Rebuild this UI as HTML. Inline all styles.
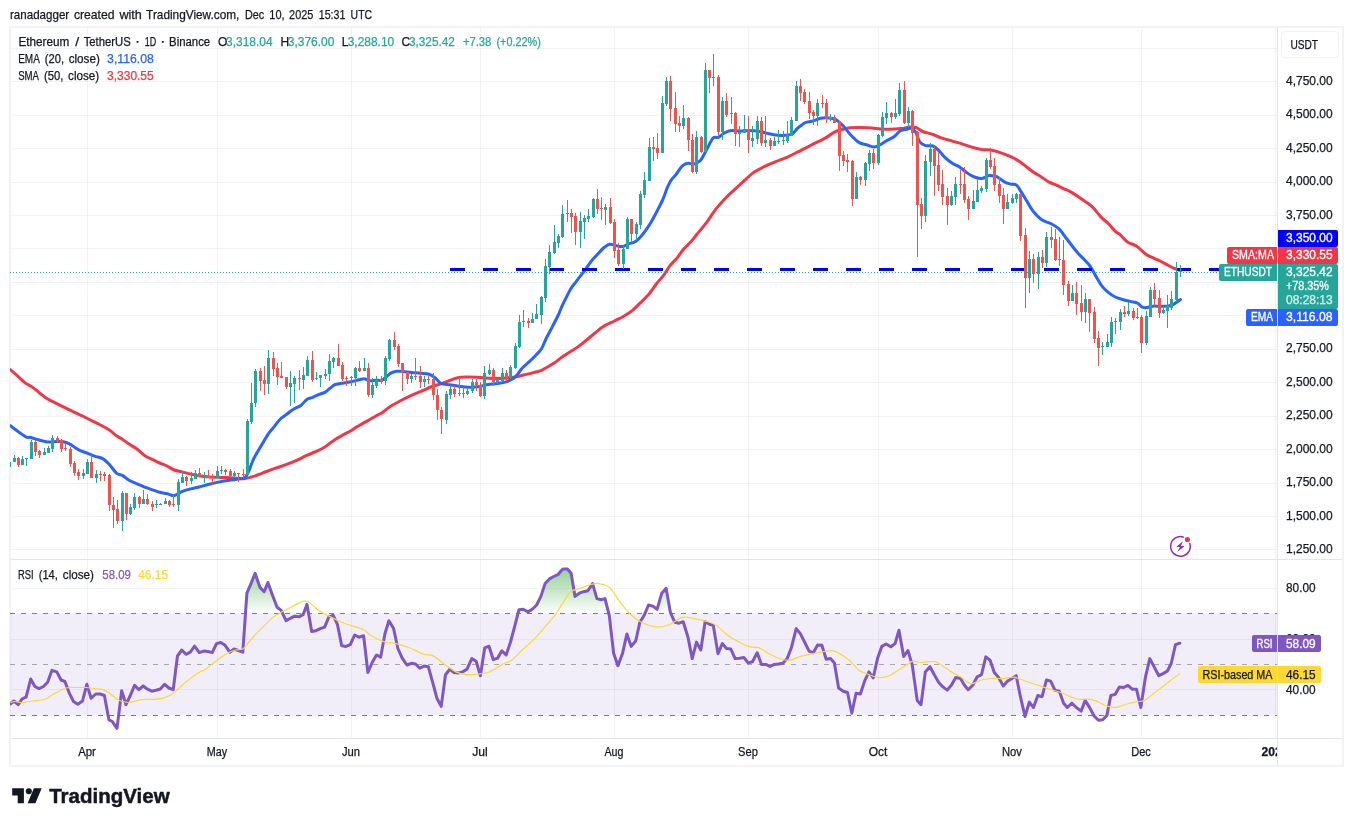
<!DOCTYPE html>
<html><head><meta charset="utf-8"><title>ETHUSDT chart</title>
<style>html,body{margin:0;padding:0;background:#fff;width:1353px;height:826px;overflow:hidden}</style>
</head><body>
<svg width="1353" height="826" viewBox="0 0 1353 826" font-family='"Liberation Sans", sans-serif' style="position:absolute;left:0;top:0;display:block;will-change:transform">
<defs>
<linearGradient id="gob" gradientUnits="userSpaceOnUse" x1="0" y1="537.6" x2="0" y2="614">
<stop offset="0" stop-color="#4caf50" stop-opacity="1"/><stop offset="1" stop-color="#4caf50" stop-opacity="0"/></linearGradient>
<linearGradient id="gos" gradientUnits="userSpaceOnUse" x1="0" y1="716" x2="0" y2="792">
<stop offset="0" stop-color="#ff5252" stop-opacity="0"/><stop offset="1" stop-color="#ff5252" stop-opacity="1"/></linearGradient>
<clipPath id="cm"><rect x="10" y="28" width="1267" height="531"/></clipPath>
<clipPath id="cr"><rect x="10" y="560" width="1267" height="178"/></clipPath>
<clipPath id="ct"><rect x="11" y="739" width="1266" height="26"/></clipPath>
<clipPath id="cob"><rect x="11" y="560" width="1266" height="54"/></clipPath>
<clipPath id="cos"><rect x="11" y="716" width="1266" height="22"/></clipPath>
</defs>
<rect width="1353" height="826" fill="#fff"/>
<text x="10" y="19" font-size="13" fill="#131722" text-anchor="start" font-weight="normal" textLength="59.2" lengthAdjust="spacingAndGlyphs" stroke="#131722" stroke-width="0.25">ranadagger</text>
<text x="73.9" y="19" font-size="13" fill="#131722" text-anchor="start" font-weight="normal" textLength="40.7" lengthAdjust="spacingAndGlyphs" stroke="#131722" stroke-width="0.25">created</text>
<text x="119.4" y="19" font-size="13" fill="#131722" text-anchor="start" font-weight="normal" textLength="22.5" lengthAdjust="spacingAndGlyphs" stroke="#131722" stroke-width="0.25">with</text>
<text x="146.1" y="19" font-size="13" fill="#131722" text-anchor="start" font-weight="normal" textLength="93.3" lengthAdjust="spacingAndGlyphs" stroke="#131722" stroke-width="0.25">TradingView.com,</text>
<text x="245" y="19" font-size="13" fill="#131722" text-anchor="start" font-weight="normal" textLength="19.2" lengthAdjust="spacingAndGlyphs" stroke="#131722" stroke-width="0.25">Dec</text>
<text x="269.3" y="19" font-size="13" fill="#131722" text-anchor="start" font-weight="normal" textLength="15.3" lengthAdjust="spacingAndGlyphs" stroke="#131722" stroke-width="0.25">10,</text>
<text x="289.1" y="19" font-size="13" fill="#131722" text-anchor="start" font-weight="normal" textLength="24.2" lengthAdjust="spacingAndGlyphs" stroke="#131722" stroke-width="0.25">2025</text>
<text x="318.7" y="19" font-size="13" fill="#131722" text-anchor="start" font-weight="normal" textLength="26.8" lengthAdjust="spacingAndGlyphs" stroke="#131722" stroke-width="0.25">15:31</text>
<text x="350.6" y="19" font-size="13" fill="#131722" text-anchor="start" font-weight="normal" textLength="21.5" lengthAdjust="spacingAndGlyphs" stroke="#131722" stroke-width="0.25">UTC</text>
<rect x="10" y="27" width="1333" height="739" fill="#fff" stroke="#f3f3f4" stroke-width="2"/>
<g shape-rendering="crispEdges">
<rect x="87" y="28" width="1" height="710" fill="rgba(42,46,57,0.06)"/>
<rect x="217" y="28" width="1" height="710" fill="rgba(42,46,57,0.06)"/>
<rect x="351" y="28" width="1" height="710" fill="rgba(42,46,57,0.06)"/>
<rect x="480" y="28" width="1" height="710" fill="rgba(42,46,57,0.06)"/>
<rect x="614" y="28" width="1" height="710" fill="rgba(42,46,57,0.06)"/>
<rect x="748" y="28" width="1" height="710" fill="rgba(42,46,57,0.06)"/>
<rect x="878" y="28" width="1" height="710" fill="rgba(42,46,57,0.06)"/>
<rect x="1012" y="28" width="1" height="710" fill="rgba(42,46,57,0.06)"/>
<rect x="1141" y="28" width="1" height="710" fill="rgba(42,46,57,0.06)"/>
<rect x="1275" y="28" width="1" height="710" fill="rgba(42,46,57,0.06)"/>
<rect x="11" y="48" width="1266" height="1" fill="rgba(42,46,57,0.06)"/>
<rect x="11" y="81" width="1266" height="1" fill="rgba(42,46,57,0.06)"/>
<rect x="11" y="115" width="1266" height="1" fill="rgba(42,46,57,0.06)"/>
<rect x="11" y="148" width="1266" height="1" fill="rgba(42,46,57,0.06)"/>
<rect x="11" y="182" width="1266" height="1" fill="rgba(42,46,57,0.06)"/>
<rect x="11" y="215" width="1266" height="1" fill="rgba(42,46,57,0.06)"/>
<rect x="11" y="248" width="1266" height="1" fill="rgba(42,46,57,0.06)"/>
<rect x="11" y="282" width="1266" height="1" fill="rgba(42,46,57,0.06)"/>
<rect x="11" y="315" width="1266" height="1" fill="rgba(42,46,57,0.06)"/>
<rect x="11" y="349" width="1266" height="1" fill="rgba(42,46,57,0.06)"/>
<rect x="11" y="382" width="1266" height="1" fill="rgba(42,46,57,0.06)"/>
<rect x="11" y="416" width="1266" height="1" fill="rgba(42,46,57,0.06)"/>
<rect x="11" y="449" width="1266" height="1" fill="rgba(42,46,57,0.06)"/>
<rect x="11" y="483" width="1266" height="1" fill="rgba(42,46,57,0.06)"/>
<rect x="11" y="516" width="1266" height="1" fill="rgba(42,46,57,0.06)"/>
<rect x="11" y="549" width="1266" height="1" fill="rgba(42,46,57,0.06)"/>
<rect x="11" y="588" width="1266" height="1" fill="rgba(42,46,57,0.06)"/>
<rect x="11" y="639" width="1266" height="1" fill="rgba(42,46,57,0.06)"/>
<rect x="11" y="689" width="1266" height="1" fill="rgba(42,46,57,0.06)"/>
</g>
<g clip-path="url(#cr)">
<rect x="10" y="613.5" width="1267" height="102" fill="#7e57c2" fill-opacity="0.1"/>
<line x1="10" y1="613.5" x2="1277" y2="613.5" stroke="#787b86" stroke-width="1" stroke-dasharray="5 6" shape-rendering="crispEdges"/>
<line x1="10" y1="664.5" x2="1277" y2="664.5" stroke="#a5a7b0" stroke-width="1" stroke-dasharray="5 6" shape-rendering="crispEdges"/>
<line x1="10" y1="715.5" x2="1277" y2="715.5" stroke="#787b86" stroke-width="1" stroke-dasharray="5 6" shape-rendering="crispEdges"/>
<path d="M10.3,704.0L13.9,701.0L18.2,704.7L22.1,698.9L26.1,697.2L30.7,679.0L34.9,686.5L39.0,688.6L43.5,686.5L47.6,682.2L51.9,670.4L56.8,671.9L61.1,680.0L64.9,681.5L69.2,692.9L73.5,701.5L77.8,704.3L82.5,701.0L86.8,684.3L91.1,698.2L95.8,694.0L100.1,694.0L104.4,695.5L108.9,719.7L112.5,721.8L117.0,728.3L121.7,690.7L126.0,704.7L130.3,695.5L134.6,685.4L138.9,689.7L143.2,686.0L147.5,689.2L151.8,691.2L156.0,690.3L160.3,689.0L164.6,684.3L168.9,688.0L173.2,689.7L177.5,655.8L181.8,650.0L186.0,654.3L190.3,652.2L194.6,646.2L199.3,652.6L203.6,651.1L207.9,651.5L212.2,652.6L216.5,643.6L220.8,642.5L225.1,645.3L229.8,652.2L234.1,649.0L238.3,650.5L242.8,652.2L246.9,593.2L251.2,583.1L255.1,573.3L260.0,587.4L264.1,591.7L267.9,582.5L272.6,595.4L277.1,607.2L281.2,610.4L286.0,620.7L290.3,618.3L294.6,616.2L298.9,616.8L303.1,614.7L307.0,604.4L311.7,631.4L316.0,630.7L320.3,628.6L324.6,627.1L328.9,616.8L333.2,615.3L337.4,624.3L341.7,645.7L346.0,646.4L350.3,644.7L354.6,635.0L358.9,637.2L363.6,635.7L367.9,672.5L372.2,662.5L376.5,655.0L380.7,657.1L385.0,633.5L388.9,620.7L393.6,628.6L397.9,648.5L402.2,658.2L406.9,665.0L411.2,663.3L415.5,664.0L419.7,668.2L424.0,666.1L428.3,666.7L432.6,682.2L436.9,698.2L441.2,706.4L445.5,674.7L449.8,669.3L454.0,672.5L458.3,673.0L462.6,671.9L466.9,669.3L471.8,658.6L476.1,661.2L480.4,675.7L484.7,647.9L489.0,646.2L493.3,659.7L497.6,658.2L501.8,650.7L506.1,655.0L510.4,642.5L514.7,626.4L519.0,609.7L523.3,609.3L528.0,611.9L532.3,609.3L536.6,605.0L540.9,596.4L545.1,583.6L549.4,578.9L553.7,576.5L558.0,574.6L562.3,569.6L563.2,569.0L567.5,569.0L571.1,573.3L575.0,596.4L579.3,593.2L583.6,591.7L587.9,590.7L592.6,583.6L596.9,598.6L601.2,599.7L605.0,598.6L609.3,615.7L613.6,653.2L617.9,665.7L622.6,653.2L626.9,633.9L631.2,646.4L635.7,641.0L639.9,622.2L644.2,615.3L648.5,605.0L652.8,606.1L657.1,609.3L661.8,593.2L666.1,588.3L670.4,612.5L674.7,622.2L679.0,623.2L683.2,621.7L688.0,637.2L692.2,658.6L696.5,642.1L700.8,650.0L705.1,621.7L709.4,624.3L713.3,625.4L718.0,653.7L722.3,643.6L726.5,648.5L730.8,649.0L735.1,658.6L739.6,658.2L743.9,657.5L748.2,662.9L752.5,661.8L757.2,652.8L761.5,664.4L765.8,664.4L770.1,666.5L774.3,664.4L778.6,664.0L782.9,663.3L787.2,658.6L791.5,647.2L796.2,628.6L800.5,633.9L804.8,642.5L809.1,651.1L813.3,652.8L817.6,645.1L821.9,645.3L826.2,659.2L830.5,658.6L834.4,662.9L838.6,688.0L843.2,691.2L847.5,692.5L851.8,713.3L856.1,693.3L860.4,694.0L864.6,681.1L868.9,671.9L873.2,677.9L877.5,658.6L881.8,646.4L886.1,644.0L890.8,646.8L895.1,643.6L898.9,630.3L903.7,656.5L907.9,650.5L912.2,664.6L917.2,700.4L921.0,704.7L925.3,672.1L930.0,666.7L934.3,674.7L938.6,682.2L942.9,686.9L947.2,690.1L951.5,685.0L955.7,677.5L960.5,678.5L964.3,685.0L968.2,689.7L972.9,685.0L977.2,676.8L981.5,674.7L985.8,656.9L990.0,660.1L994.3,672.5L998.6,677.5L1003.3,686.0L1007.6,681.1L1011.9,678.5L1016.2,675.7L1020.5,697.2L1025.0,716.5L1029.3,702.1L1033.5,707.5L1037.8,695.5L1042.1,696.7L1046.4,680.0L1050.7,681.1L1055.0,690.3L1059.3,691.2L1063.6,703.2L1067.3,707.5L1072.0,703.2L1076.3,707.5L1081.2,711.1L1085.1,700.4L1089.8,707.9L1094.1,716.0L1098.4,720.3L1102.7,719.7L1106.9,715.4L1110.8,695.5L1115.1,694.4L1119.4,687.1L1123.7,687.5L1127.9,685.4L1132.2,689.2L1136.5,689.2L1140.8,707.5L1145.5,676.8L1149.8,658.6L1154.1,666.7L1158.8,675.7L1163.1,673.6L1167.4,671.0L1171.2,663.5L1175.5,644.7L1179.8,643.2L1179.8,614L10.3,614Z" fill="url(#gob)" clip-path="url(#cob)"/>
<path d="M10.3,704.0L13.9,701.0L18.2,704.7L22.1,698.9L26.1,697.2L30.7,679.0L34.9,686.5L39.0,688.6L43.5,686.5L47.6,682.2L51.9,670.4L56.8,671.9L61.1,680.0L64.9,681.5L69.2,692.9L73.5,701.5L77.8,704.3L82.5,701.0L86.8,684.3L91.1,698.2L95.8,694.0L100.1,694.0L104.4,695.5L108.9,719.7L112.5,721.8L117.0,728.3L121.7,690.7L126.0,704.7L130.3,695.5L134.6,685.4L138.9,689.7L143.2,686.0L147.5,689.2L151.8,691.2L156.0,690.3L160.3,689.0L164.6,684.3L168.9,688.0L173.2,689.7L177.5,655.8L181.8,650.0L186.0,654.3L190.3,652.2L194.6,646.2L199.3,652.6L203.6,651.1L207.9,651.5L212.2,652.6L216.5,643.6L220.8,642.5L225.1,645.3L229.8,652.2L234.1,649.0L238.3,650.5L242.8,652.2L246.9,593.2L251.2,583.1L255.1,573.3L260.0,587.4L264.1,591.7L267.9,582.5L272.6,595.4L277.1,607.2L281.2,610.4L286.0,620.7L290.3,618.3L294.6,616.2L298.9,616.8L303.1,614.7L307.0,604.4L311.7,631.4L316.0,630.7L320.3,628.6L324.6,627.1L328.9,616.8L333.2,615.3L337.4,624.3L341.7,645.7L346.0,646.4L350.3,644.7L354.6,635.0L358.9,637.2L363.6,635.7L367.9,672.5L372.2,662.5L376.5,655.0L380.7,657.1L385.0,633.5L388.9,620.7L393.6,628.6L397.9,648.5L402.2,658.2L406.9,665.0L411.2,663.3L415.5,664.0L419.7,668.2L424.0,666.1L428.3,666.7L432.6,682.2L436.9,698.2L441.2,706.4L445.5,674.7L449.8,669.3L454.0,672.5L458.3,673.0L462.6,671.9L466.9,669.3L471.8,658.6L476.1,661.2L480.4,675.7L484.7,647.9L489.0,646.2L493.3,659.7L497.6,658.2L501.8,650.7L506.1,655.0L510.4,642.5L514.7,626.4L519.0,609.7L523.3,609.3L528.0,611.9L532.3,609.3L536.6,605.0L540.9,596.4L545.1,583.6L549.4,578.9L553.7,576.5L558.0,574.6L562.3,569.6L563.2,569.0L567.5,569.0L571.1,573.3L575.0,596.4L579.3,593.2L583.6,591.7L587.9,590.7L592.6,583.6L596.9,598.6L601.2,599.7L605.0,598.6L609.3,615.7L613.6,653.2L617.9,665.7L622.6,653.2L626.9,633.9L631.2,646.4L635.7,641.0L639.9,622.2L644.2,615.3L648.5,605.0L652.8,606.1L657.1,609.3L661.8,593.2L666.1,588.3L670.4,612.5L674.7,622.2L679.0,623.2L683.2,621.7L688.0,637.2L692.2,658.6L696.5,642.1L700.8,650.0L705.1,621.7L709.4,624.3L713.3,625.4L718.0,653.7L722.3,643.6L726.5,648.5L730.8,649.0L735.1,658.6L739.6,658.2L743.9,657.5L748.2,662.9L752.5,661.8L757.2,652.8L761.5,664.4L765.8,664.4L770.1,666.5L774.3,664.4L778.6,664.0L782.9,663.3L787.2,658.6L791.5,647.2L796.2,628.6L800.5,633.9L804.8,642.5L809.1,651.1L813.3,652.8L817.6,645.1L821.9,645.3L826.2,659.2L830.5,658.6L834.4,662.9L838.6,688.0L843.2,691.2L847.5,692.5L851.8,713.3L856.1,693.3L860.4,694.0L864.6,681.1L868.9,671.9L873.2,677.9L877.5,658.6L881.8,646.4L886.1,644.0L890.8,646.8L895.1,643.6L898.9,630.3L903.7,656.5L907.9,650.5L912.2,664.6L917.2,700.4L921.0,704.7L925.3,672.1L930.0,666.7L934.3,674.7L938.6,682.2L942.9,686.9L947.2,690.1L951.5,685.0L955.7,677.5L960.5,678.5L964.3,685.0L968.2,689.7L972.9,685.0L977.2,676.8L981.5,674.7L985.8,656.9L990.0,660.1L994.3,672.5L998.6,677.5L1003.3,686.0L1007.6,681.1L1011.9,678.5L1016.2,675.7L1020.5,697.2L1025.0,716.5L1029.3,702.1L1033.5,707.5L1037.8,695.5L1042.1,696.7L1046.4,680.0L1050.7,681.1L1055.0,690.3L1059.3,691.2L1063.6,703.2L1067.3,707.5L1072.0,703.2L1076.3,707.5L1081.2,711.1L1085.1,700.4L1089.8,707.9L1094.1,716.0L1098.4,720.3L1102.7,719.7L1106.9,715.4L1110.8,695.5L1115.1,694.4L1119.4,687.1L1123.7,687.5L1127.9,685.4L1132.2,689.2L1136.5,689.2L1140.8,707.5L1145.5,676.8L1149.8,658.6L1154.1,666.7L1158.8,675.7L1163.1,673.6L1167.4,671.0L1171.2,663.5L1175.5,644.7L1179.8,643.2L1179.8,716L10.3,716Z" fill="url(#gos)" clip-path="url(#cos)"/>
<path d="M10.3,704.0L13.9,701.0L18.2,704.7L22.1,698.9L26.1,697.2L30.7,679.0L34.9,686.5L39.0,688.6L43.5,686.5L47.6,682.2L51.9,670.4L56.8,671.9L61.1,680.0L64.9,681.5L69.2,692.9L73.5,701.5L77.8,704.3L82.5,701.0L86.8,684.3L91.1,698.2L95.8,694.0L100.1,694.0L104.4,695.5L108.9,719.7L112.5,721.8L117.0,728.3L121.7,690.7L126.0,704.7L130.3,695.5L134.6,685.4L138.9,689.7L143.2,686.0L147.5,689.2L151.8,691.2L156.0,690.3L160.3,689.0L164.6,684.3L168.9,688.0L173.2,689.7L177.5,655.8L181.8,650.0L186.0,654.3L190.3,652.2L194.6,646.2L199.3,652.6L203.6,651.1L207.9,651.5L212.2,652.6L216.5,643.6L220.8,642.5L225.1,645.3L229.8,652.2L234.1,649.0L238.3,650.5L242.8,652.2L246.9,593.2L251.2,583.1L255.1,573.3L260.0,587.4L264.1,591.7L267.9,582.5L272.6,595.4L277.1,607.2L281.2,610.4L286.0,620.7L290.3,618.3L294.6,616.2L298.9,616.8L303.1,614.7L307.0,604.4L311.7,631.4L316.0,630.7L320.3,628.6L324.6,627.1L328.9,616.8L333.2,615.3L337.4,624.3L341.7,645.7L346.0,646.4L350.3,644.7L354.6,635.0L358.9,637.2L363.6,635.7L367.9,672.5L372.2,662.5L376.5,655.0L380.7,657.1L385.0,633.5L388.9,620.7L393.6,628.6L397.9,648.5L402.2,658.2L406.9,665.0L411.2,663.3L415.5,664.0L419.7,668.2L424.0,666.1L428.3,666.7L432.6,682.2L436.9,698.2L441.2,706.4L445.5,674.7L449.8,669.3L454.0,672.5L458.3,673.0L462.6,671.9L466.9,669.3L471.8,658.6L476.1,661.2L480.4,675.7L484.7,647.9L489.0,646.2L493.3,659.7L497.6,658.2L501.8,650.7L506.1,655.0L510.4,642.5L514.7,626.4L519.0,609.7L523.3,609.3L528.0,611.9L532.3,609.3L536.6,605.0L540.9,596.4L545.1,583.6L549.4,578.9L553.7,576.5L558.0,574.6L562.3,569.6L563.2,569.0L567.5,569.0L571.1,573.3L575.0,596.4L579.3,593.2L583.6,591.7L587.9,590.7L592.6,583.6L596.9,598.6L601.2,599.7L605.0,598.6L609.3,615.7L613.6,653.2L617.9,665.7L622.6,653.2L626.9,633.9L631.2,646.4L635.7,641.0L639.9,622.2L644.2,615.3L648.5,605.0L652.8,606.1L657.1,609.3L661.8,593.2L666.1,588.3L670.4,612.5L674.7,622.2L679.0,623.2L683.2,621.7L688.0,637.2L692.2,658.6L696.5,642.1L700.8,650.0L705.1,621.7L709.4,624.3L713.3,625.4L718.0,653.7L722.3,643.6L726.5,648.5L730.8,649.0L735.1,658.6L739.6,658.2L743.9,657.5L748.2,662.9L752.5,661.8L757.2,652.8L761.5,664.4L765.8,664.4L770.1,666.5L774.3,664.4L778.6,664.0L782.9,663.3L787.2,658.6L791.5,647.2L796.2,628.6L800.5,633.9L804.8,642.5L809.1,651.1L813.3,652.8L817.6,645.1L821.9,645.3L826.2,659.2L830.5,658.6L834.4,662.9L838.6,688.0L843.2,691.2L847.5,692.5L851.8,713.3L856.1,693.3L860.4,694.0L864.6,681.1L868.9,671.9L873.2,677.9L877.5,658.6L881.8,646.4L886.1,644.0L890.8,646.8L895.1,643.6L898.9,630.3L903.7,656.5L907.9,650.5L912.2,664.6L917.2,700.4L921.0,704.7L925.3,672.1L930.0,666.7L934.3,674.7L938.6,682.2L942.9,686.9L947.2,690.1L951.5,685.0L955.7,677.5L960.5,678.5L964.3,685.0L968.2,689.7L972.9,685.0L977.2,676.8L981.5,674.7L985.8,656.9L990.0,660.1L994.3,672.5L998.6,677.5L1003.3,686.0L1007.6,681.1L1011.9,678.5L1016.2,675.7L1020.5,697.2L1025.0,716.5L1029.3,702.1L1033.5,707.5L1037.8,695.5L1042.1,696.7L1046.4,680.0L1050.7,681.1L1055.0,690.3L1059.3,691.2L1063.6,703.2L1067.3,707.5L1072.0,703.2L1076.3,707.5L1081.2,711.1L1085.1,700.4L1089.8,707.9L1094.1,716.0L1098.4,720.3L1102.7,719.7L1106.9,715.4L1110.8,695.5L1115.1,694.4L1119.4,687.1L1123.7,687.5L1127.9,685.4L1132.2,689.2L1136.5,689.2L1140.8,707.5L1145.5,676.8L1149.8,658.6L1154.1,666.7L1158.8,675.7L1163.1,673.6L1167.4,671.0L1171.2,663.5L1175.5,644.7L1179.8,643.2" fill="none" stroke="#7e57c2" stroke-width="3" stroke-linejoin="round" stroke-linecap="round"/>
<path d="M10.3,702.5C11.1,702.4 13.1,701.5 15.0,701.5C16.9,701.5 18.6,702.6 21.4,702.5C24.3,702.5 28.2,701.6 32.2,701.0C36.1,700.5 41.4,700.5 45.0,699.3C48.6,698.1 50.0,695.9 53.6,694.0C57.2,692.1 62.9,689.0 66.4,688.0C70.0,686.9 71.8,687.6 75.0,687.5C78.2,687.5 82.5,687.4 85.7,687.5C89.0,687.7 91.5,688.2 94.3,688.6C97.2,689.0 100.4,689.0 102.9,689.7C105.4,690.4 106.8,691.2 109.3,692.9C111.8,694.6 114.7,698.1 117.9,699.7C121.1,701.4 124.7,702.5 128.6,702.5C132.5,702.5 137.2,700.3 141.5,699.7C145.8,699.2 150.4,699.7 154.3,699.3C158.3,699.0 161.8,698.7 165.0,697.6C168.3,696.5 170.4,695.3 173.6,692.9C176.8,690.5 180.4,686.5 184.3,683.2C188.3,680.0 193.6,676.0 197.2,673.6C200.8,671.2 202.6,671.0 205.8,668.9C209.0,666.7 212.9,663.3 216.5,660.7C220.1,658.1 224.0,655.0 227.2,653.2C230.4,651.5 233.2,650.7 235.8,650.0C238.4,649.3 240.7,650.2 242.8,649.0C245.0,647.7 246.6,644.8 248.6,642.5C250.7,640.2 252.6,637.7 255.1,635.0C257.6,632.3 260.8,629.3 263.6,626.4C266.5,623.6 269.4,620.2 272.2,617.9C275.1,615.5 277.7,614.3 280.8,612.5C283.9,610.7 286.9,609.0 290.7,607.2C294.5,605.3 300.4,601.9 303.6,601.2C306.8,600.4 307.5,601.3 310.0,602.9C312.5,604.4 315.0,607.9 318.6,610.4C322.2,612.8 327.2,615.3 331.4,617.4C335.7,619.6 338.9,621.2 344.3,623.2C349.7,625.3 359.3,627.7 363.6,629.7C367.9,631.6 366.8,633.1 370.0,635.0C373.2,637.0 379.0,640.1 382.9,641.4C386.8,642.8 389.3,642.2 393.6,643.2C397.9,644.2 403.6,645.6 408.6,647.5C413.6,649.3 419.7,653.0 423.6,654.3C427.5,655.6 429.0,654.0 432.2,655.4C435.4,656.8 439.0,660.1 442.9,662.9C446.8,665.6 451.8,669.9 455.8,671.9C459.7,673.8 462.9,674.3 466.5,674.7C470.0,675.1 473.6,674.6 477.2,674.2C480.8,673.9 485.1,673.3 487.9,672.5C490.8,671.7 491.8,670.7 494.3,669.3C496.8,667.9 500.1,665.5 502.9,664.0C505.8,662.5 508.3,662.6 511.5,660.3C514.7,658.0 518.6,653.3 522.2,650.0C525.8,646.7 529.3,643.9 532.9,640.4C536.5,636.8 540.1,632.7 543.6,628.6C547.2,624.5 551.1,620.0 554.4,615.7C557.6,611.4 560.2,606.9 562.9,602.9C565.7,598.9 567.6,594.2 570.7,591.7C573.8,589.2 577.9,589.1 581.4,587.9C585.0,586.6 589.3,584.9 592.2,584.2C595.0,583.5 595.7,583.0 598.6,583.6C601.4,584.1 605.7,584.4 609.3,587.4C612.9,590.5 616.4,597.3 620.0,601.8C623.6,606.3 627.2,611.3 630.7,614.7C634.3,618.1 637.2,620.1 641.4,622.2C645.7,624.2 651.8,626.4 656.5,626.9C661.1,627.3 665.0,626.3 669.3,624.7C673.6,623.2 678.2,618.5 682.2,617.4C686.1,616.4 689.0,617.7 692.9,618.3C696.8,618.9 701.8,619.9 705.8,621.1C709.7,622.3 712.9,623.1 716.5,625.4C720.0,627.7 723.6,632.3 727.2,635.0C730.8,637.7 734.3,639.6 737.9,641.4C741.5,643.3 745.0,645.3 748.6,646.4C752.2,647.5 755.8,646.6 759.3,647.9C762.9,649.2 766.8,652.6 770.1,654.3C773.3,656.0 775.4,657.2 778.6,658.2C781.8,659.2 785.8,660.6 789.3,660.3C792.9,660.0 796.1,657.6 800.1,656.5C804.0,655.3 809.0,654.5 812.9,653.7C816.8,652.9 820.1,652.2 823.6,651.7C827.2,651.3 830.2,649.8 834.4,651.1C838.5,652.4 844.4,656.5 848.6,659.7C852.7,662.9 856.1,668.0 859.3,670.4C862.5,672.8 864.6,673.1 867.9,674.2C871.1,675.4 875.0,677.2 878.6,677.5C882.2,677.7 886.1,676.9 889.3,675.7C892.5,674.6 895.0,672.2 897.9,670.4C900.7,668.6 903.9,666.6 906.4,665.0C908.9,663.5 910.4,661.6 912.9,661.2C915.4,660.7 917.9,662.4 921.4,662.5C925.0,662.5 930.7,660.8 934.3,661.4C937.9,662.0 939.7,664.1 942.9,666.1C946.1,668.1 950.4,671.2 953.6,673.2C956.8,675.1 959.3,676.1 962.2,677.9C965.0,679.7 967.5,683.5 970.7,683.9C974.0,684.2 977.9,680.9 981.5,680.0C985.0,679.1 988.6,678.8 992.2,678.5C995.8,678.3 999.3,678.7 1002.9,678.5C1006.5,678.3 1010.0,676.9 1013.6,677.2C1017.2,677.6 1020.4,679.4 1024.3,680.7C1028.3,682.0 1032.9,683.5 1037.2,685.0C1041.5,686.4 1045.8,687.9 1050.1,689.2C1054.3,690.6 1059.3,692.0 1062.9,693.3C1066.5,694.6 1068.7,696.2 1071.6,697.2C1074.4,698.2 1076.9,699.0 1080.1,699.3C1083.4,699.7 1087.6,698.8 1090.9,699.3C1094.1,699.9 1096.6,701.4 1099.4,702.5C1102.3,703.7 1105.2,705.6 1108.0,706.4C1110.9,707.2 1113.4,707.6 1116.6,707.3C1119.8,706.9 1124.1,704.9 1127.3,704.0C1130.5,703.1 1133.0,702.5 1135.9,701.9C1138.7,701.3 1141.6,701.7 1144.4,700.4C1147.3,699.1 1150.2,696.1 1153.0,694.0C1155.9,691.8 1158.7,689.7 1161.6,687.5C1164.5,685.3 1167.1,683.0 1170.2,680.7C1173.2,678.4 1178.2,674.8 1179.8,673.6" fill="none" stroke="#fdd835" stroke-width="1.2" stroke-linejoin="round"/>
</g>
<g clip-path="url(#cm)">
<path d="M10.3,369.6C11.6,370.7 15.3,374.0 17.7,376.2C20.2,378.4 22.7,381.0 25.1,382.9C27.6,384.7 30.1,385.6 32.5,387.3C35.0,389.0 37.4,391.3 39.9,393.2C42.4,395.1 44.6,397.2 47.3,398.8C50.0,400.5 53.2,401.8 56.2,403.3C59.1,404.7 62.1,406.2 65.0,407.7C68.0,409.2 71.0,410.7 73.9,412.1C76.9,413.5 79.8,414.7 82.8,416.1C85.7,417.5 88.7,419.1 91.6,420.6C94.6,422.0 97.6,423.4 100.5,425.0C103.5,426.6 106.7,428.2 109.4,430.1C112.1,431.9 114.6,434.4 116.8,436.0C119.0,437.5 120.7,438.1 122.7,439.4C124.7,440.7 126.4,442.3 128.6,443.8C130.8,445.3 133.3,446.3 136.0,448.3C138.7,450.2 141.9,453.7 144.9,455.7C147.8,457.6 151.3,458.9 153.7,460.1C156.2,461.3 157.4,462.1 159.6,463.0C161.9,464.0 164.6,464.8 167.0,466.0C169.5,467.2 172.0,469.0 174.4,470.0C176.9,471.0 179.1,471.2 181.8,471.9C184.5,472.6 187.6,473.4 190.7,474.1C193.8,474.8 197.2,475.7 200.3,476.1C203.3,476.6 206.2,476.7 209.1,476.9C212.1,477.1 215.0,477.2 218.0,477.3C221.0,477.4 223.4,477.4 226.9,477.6C230.3,477.8 235.7,478.2 238.7,478.3C241.6,478.5 242.4,478.9 244.6,478.6C246.8,478.4 249.0,477.8 252.0,476.9C255.0,476.0 258.6,474.5 262.3,473.2C266.0,471.8 270.2,470.1 274.2,468.7C278.1,467.3 282.1,466.2 286.0,464.7C289.9,463.3 294.4,461.4 297.8,459.9C301.3,458.3 303.7,456.8 306.7,455.4C309.6,454.1 312.6,453.1 315.6,451.7C318.5,450.4 321.5,449.2 324.4,447.3C327.4,445.5 330.3,442.6 333.3,440.7C336.3,438.7 339.1,437.2 342.2,435.5C345.2,433.8 348.9,432.0 351.4,430.5C353.9,429.1 354.4,428.4 357.0,426.8C359.7,425.2 364.2,422.8 367.4,420.9C370.6,419.1 373.8,417.1 376.3,415.7C378.7,414.4 380.0,414.2 382.2,412.8C384.3,411.4 386.3,409.1 389.2,407.2C392.1,405.3 395.9,403.3 399.6,401.3C403.3,399.3 407.7,397.1 411.4,395.4C415.1,393.7 418.3,392.4 421.7,391.0C425.2,389.5 428.9,387.7 432.1,386.5C435.3,385.3 438.0,384.9 441.0,383.9C443.9,382.8 446.9,381.4 449.8,380.3C452.8,379.2 455.7,377.9 458.7,377.4C461.6,376.8 464.6,376.9 467.6,376.9C470.5,376.9 473.5,377.0 476.4,377.2C479.4,377.4 481.9,377.7 485.3,377.9C488.7,378.1 493.7,378.4 497.1,378.4C500.6,378.4 503.0,378.2 506.0,377.9C509.0,377.7 511.9,377.4 514.9,376.9C517.8,376.4 520.8,375.7 523.7,375.0C526.7,374.3 529.6,373.7 532.6,372.9C535.6,372.1 538.0,371.8 541.5,370.3C544.9,368.7 549.8,365.8 553.3,363.6C556.7,361.4 557.9,359.9 562.2,357.0C566.4,354.0 574.2,349.5 579.0,346.1C583.7,342.7 586.8,339.7 590.8,336.5C594.7,333.3 598.7,329.5 602.6,326.9C606.5,324.3 611.0,322.7 614.4,321.0C617.9,319.2 620.3,318.2 623.3,316.5C626.3,314.8 629.4,312.8 632.2,310.6C634.9,308.4 637.1,306.0 640.0,303.2C642.9,300.4 646.5,297.1 649.3,293.8C652.1,290.5 654.2,286.7 656.7,283.5C659.2,280.3 661.9,277.6 664.1,274.6C666.3,271.6 667.8,268.6 670.0,265.7C672.2,262.9 675.2,260.3 677.4,257.6C679.6,254.9 681.1,252.1 683.3,249.5C685.5,246.9 688.5,244.5 690.7,242.1C692.9,239.6 693.8,238.1 696.6,234.7C699.4,231.3 704.5,225.3 707.2,221.6C710.0,218.0 711.2,215.5 713.1,212.8C715.1,210.1 716.8,208.0 719.0,205.4C721.3,202.8 723.5,200.2 726.4,197.3C729.4,194.3 733.6,190.6 736.8,187.6C740.0,184.7 742.9,182.0 745.6,179.5C748.4,177.1 750.1,175.0 753.0,172.9C756.0,170.8 759.7,168.8 763.4,167.0C767.1,165.1 771.3,163.4 775.2,161.8C779.2,160.2 783.3,158.9 787.0,157.3C790.7,155.7 794.2,153.8 797.4,152.2C800.6,150.6 804.3,148.7 806.3,147.7C808.2,146.8 807.0,147.3 808.9,146.3C810.8,145.3 814.8,143.3 817.7,141.9C820.7,140.4 823.9,139.0 826.6,137.4C829.3,135.8 831.3,133.6 834.0,132.3C836.7,130.9 840.2,130.0 842.9,129.3C845.6,128.6 847.5,128.1 850.3,127.8C853.0,127.5 856.2,127.4 859.1,127.4C862.1,127.4 865.0,127.6 868.0,127.8C871.0,128.0 873.9,128.3 876.9,128.6C879.8,128.8 882.8,129.2 885.7,129.3C888.7,129.4 891.6,129.2 894.6,129.0C897.6,128.8 901.0,128.6 903.5,128.3C905.9,127.9 907.2,127.2 909.4,127.1C911.6,127.0 914.6,127.1 916.8,127.8C919.0,128.6 920.0,130.4 922.7,131.5C925.4,132.6 929.8,133.4 933.0,134.5C936.2,135.6 938.7,137.1 941.9,138.2C945.1,139.3 948.8,140.1 952.3,141.1C955.7,142.1 959.2,143.0 962.6,144.1C966.1,145.1 969.7,146.6 972.9,147.5C976.2,148.4 978.9,149.1 981.8,149.6C984.8,150.0 987.8,149.6 990.7,150.0C993.5,150.4 996.3,151.3 998.9,152.1C1001.5,152.9 1003.8,153.8 1006.3,154.8C1008.7,155.8 1010.9,156.6 1013.7,158.0C1016.4,159.5 1019.3,161.4 1022.5,163.7C1025.7,165.9 1029.9,169.7 1032.9,171.8C1035.8,173.9 1037.5,174.5 1040.3,176.2C1043.0,177.9 1046.4,180.7 1049.1,182.1C1051.8,183.6 1054.1,184.0 1056.5,185.1C1059.0,186.2 1061.7,187.7 1063.9,188.8C1066.1,189.8 1067.4,190.1 1069.8,191.4C1072.3,192.8 1076.0,195.1 1078.7,196.9C1081.4,198.7 1083.6,200.2 1086.1,202.1C1088.5,203.9 1091.0,205.5 1093.5,208.0C1095.9,210.5 1098.4,214.3 1100.9,216.9C1103.3,219.5 1105.8,221.1 1108.3,223.5C1110.7,226.0 1113.7,229.8 1115.6,231.6C1117.6,233.5 1118.1,232.9 1120.1,234.6C1122.1,236.3 1124.8,240.1 1127.5,242.0C1130.2,243.9 1133.2,244.1 1136.3,246.1C1139.5,248.2 1143.4,252.4 1146.3,254.4C1149.2,256.4 1151.3,256.9 1153.7,258.1C1156.2,259.3 1158.7,260.3 1161.1,261.5C1163.6,262.8 1166.3,264.4 1168.5,265.5C1170.7,266.7 1172.4,267.6 1174.4,268.5C1176.4,269.3 1179.5,270.3 1180.5,270.7" fill="none" stroke="#f23645" stroke-width="3" stroke-linejoin="round" stroke-linecap="round"/>
<path d="M10.3,425.6C11.6,426.6 15.2,429.4 17.7,431.3C20.3,433.1 23.7,435.8 25.9,436.9C28.1,437.9 28.9,437.0 31.0,437.5C33.1,438.0 35.7,439.1 38.4,439.8C41.1,440.6 44.3,441.6 47.3,441.9C50.3,442.2 53.7,441.7 56.2,441.6C58.6,441.6 59.9,441.2 62.1,441.6C64.3,442.0 66.8,442.5 69.5,443.8C72.2,445.2 75.4,448.2 78.3,449.7C81.3,451.3 84.5,452.1 87.2,453.1C89.9,454.2 91.9,455.1 94.6,456.1C97.3,457.1 101.0,457.6 103.5,459.1C105.9,460.5 107.2,462.1 109.4,464.5C111.6,466.9 114.6,471.5 116.8,473.4C119.0,475.2 120.7,474.5 122.7,475.6C124.7,476.7 126.4,478.8 128.6,480.0C130.8,481.3 132.8,481.9 136.0,483.3C139.2,484.6 143.9,486.7 147.8,488.2C151.8,489.7 156.4,491.4 159.6,492.3C162.8,493.2 164.6,493.1 167.0,493.6C169.5,494.2 172.0,495.9 174.4,495.6C176.9,495.2 179.1,492.7 181.8,491.6C184.5,490.5 187.7,489.7 190.7,488.9C193.7,488.1 196.9,487.5 200.0,486.7C203.1,485.9 205.1,485.2 209.1,484.3C213.1,483.3 219.0,481.9 223.9,481.0C228.8,480.1 235.2,479.6 238.7,479.1C242.1,478.6 243.0,479.2 244.6,478.0C246.2,476.9 246.8,475.6 248.3,472.4C249.8,469.3 251.6,463.1 253.5,459.1C255.3,455.2 257.7,451.7 259.4,448.8C261.1,445.8 262.3,443.9 263.8,441.4C265.3,438.9 266.5,436.5 268.3,434.0C270.0,431.5 272.2,429.1 274.2,426.6C276.1,424.1 278.1,421.2 280.1,419.2C282.1,417.2 283.8,416.5 286.0,414.8C288.2,413.1 290.9,410.7 293.4,409.2C295.9,407.6 298.6,407.0 300.9,405.4C303.1,403.8 304.8,400.8 306.8,399.5C308.7,398.1 310.7,398.1 312.7,397.3C314.7,396.4 316.5,395.5 318.6,394.6C320.7,393.7 322.8,393.6 325.3,392.1C327.7,390.6 331.3,386.8 333.4,385.4C335.5,384.1 336.1,384.4 337.8,384.0C339.5,383.5 341.5,383.3 343.7,382.9C345.9,382.5 348.9,382.2 351.1,381.7C353.3,381.3 354.8,380.8 357.0,380.3C359.3,379.8 362.5,378.7 364.4,378.8C366.4,378.8 366.9,380.3 368.9,380.6C370.8,380.8 373.8,380.4 375.9,380.3C378.1,380.2 380.1,380.7 381.8,380.2C383.6,379.6 384.8,378.1 386.3,376.9C387.7,375.8 389.0,374.2 390.7,373.2C392.4,372.3 394.6,371.6 396.6,371.3C398.6,371.0 400.1,371.2 402.5,371.4C405.0,371.6 408.4,372.2 411.4,372.5C414.3,372.8 417.3,372.9 420.3,373.2C423.2,373.5 426.7,373.5 429.1,374.2C431.6,375.0 433.1,376.1 435.0,377.6C437.0,379.2 438.5,382.1 441.0,383.3C443.4,384.4 446.9,384.3 449.8,384.7C452.8,385.2 455.7,385.8 458.7,386.2C461.6,386.6 464.6,387.2 467.6,387.3C470.5,387.4 474.0,387.1 476.4,386.8C478.9,386.6 480.4,386.1 482.3,385.8C484.3,385.4 485.8,385.0 488.3,384.6C490.7,384.2 494.2,384.0 497.1,383.6C500.1,383.1 503.3,382.7 506.0,381.8C508.7,380.9 511.4,379.7 513.4,378.4C515.4,377.1 516.3,375.7 517.8,374.0C519.3,372.2 520.3,370.1 522.3,368.0C524.2,365.9 527.4,363.5 529.6,361.4C531.9,359.3 533.6,357.6 535.6,355.5C537.5,353.4 539.7,351.7 541.5,348.8C543.3,345.9 544.6,341.6 546.4,338.0C548.2,334.3 550.4,330.7 552.3,326.9C554.3,323.0 556.5,318.7 558.3,315.0C560.0,311.3 560.7,308.9 562.7,304.7C564.7,300.5 567.9,293.7 570.1,289.9C572.3,286.1 573.8,284.7 576.0,281.8C578.2,278.8 580.9,275.5 583.4,272.2C585.8,268.8 588.6,264.7 590.8,261.8C593.0,259.0 594.6,257.5 596.7,255.2C598.8,252.9 601.4,249.8 603.5,248.0C605.6,246.2 607.2,244.7 609.4,244.3C611.6,243.9 614.6,245.4 616.8,245.8C619.0,246.1 620.7,246.8 622.7,246.5C624.7,246.2 626.5,244.7 628.6,243.9C630.7,243.0 633.3,243.1 635.5,241.6C637.8,240.1 639.8,237.8 642.2,235.0C644.5,232.1 647.1,228.5 649.6,224.6C652.0,220.7 654.7,215.5 657.0,211.3C659.2,207.1 661.1,203.4 662.9,199.5C664.6,195.5 665.9,190.9 667.3,187.6C668.7,184.4 669.5,182.5 671.0,180.3C672.5,178.0 674.3,176.7 676.2,174.3C678.0,172.0 680.1,168.1 682.1,166.2C684.1,164.4 686.0,163.6 688.0,163.3C690.0,162.9 691.8,164.5 693.9,164.0C696.0,163.5 698.6,162.4 700.6,160.3C702.5,158.2 703.6,155.1 705.7,151.4C707.8,147.7 711.0,140.5 713.1,138.1C715.2,135.8 716.6,138.2 718.3,137.4C720.0,136.6 721.4,134.7 723.5,133.5C725.6,132.4 728.2,131.0 730.9,130.6C733.6,130.1 736.8,131.0 739.7,131.0C742.7,131.0 745.6,130.6 748.6,130.6C751.6,130.6 754.5,130.6 757.5,131.0C760.4,131.4 763.6,132.5 766.3,133.1C769.1,133.7 771.3,134.3 773.7,134.7C776.2,135.1 778.7,135.4 781.1,135.4C783.6,135.5 786.5,135.3 788.5,135.0C790.5,134.7 791.5,134.6 792.9,133.5C794.4,132.4 795.7,129.9 797.4,128.3C799.1,126.7 801.9,124.9 803.3,123.9C804.7,122.9 804.2,122.9 805.9,122.4C807.6,121.8 810.8,121.6 813.3,120.9C815.8,120.2 818.2,118.7 820.7,118.2C823.2,117.7 825.6,117.7 828.1,117.9C830.5,118.1 833.0,118.1 835.5,119.4C837.9,120.7 840.4,123.1 842.9,125.6C845.3,128.1 847.5,131.6 850.3,134.5C853.0,137.3 856.4,140.9 859.1,142.6C861.8,144.3 864.1,144.1 866.5,144.8C869.0,145.6 871.7,147.0 873.9,147.0C876.1,147.0 877.6,145.9 879.8,144.8C882.0,143.7 884.7,141.8 887.2,140.4C889.7,139.0 892.4,137.9 894.6,136.2C896.8,134.6 898.5,131.9 900.5,130.8C902.5,129.6 904.7,129.7 906.4,129.3C908.2,128.9 909.4,127.9 910.9,128.3C912.3,128.6 913.8,129.3 915.3,131.5C916.8,133.8 918.0,139.5 919.7,141.9C921.5,144.2 923.4,144.9 925.6,145.6C927.9,146.3 930.8,145.1 933.0,146.0C935.3,146.9 937.0,148.8 939.0,150.7C940.9,152.6 942.6,155.3 944.9,157.4C947.1,159.5 949.8,161.7 952.3,163.3C954.7,164.9 957.2,165.4 959.6,167.0C962.1,168.6 964.6,171.2 967.0,172.9C969.5,174.6 972.0,176.1 974.4,177.0C976.9,178.0 979.4,178.8 981.8,178.5C984.3,178.3 987.0,176.0 989.2,175.6C991.4,175.2 993.8,175.9 995.1,176.2C996.5,176.4 995.8,176.0 997.4,177.0C999.0,177.9 1002.6,180.9 1004.8,182.1C1007.0,183.3 1008.7,183.6 1010.7,184.1C1012.7,184.5 1014.9,183.8 1016.6,185.1C1018.3,186.4 1019.3,189.0 1021.0,191.7C1022.8,194.4 1025.0,198.1 1027.0,201.3C1028.9,204.5 1030.4,207.9 1032.9,211.0C1035.3,214.0 1038.8,217.7 1041.7,219.8C1044.7,221.9 1047.8,222.0 1050.6,223.5C1053.4,225.0 1056.0,226.1 1058.7,228.7C1061.4,231.3 1063.8,235.1 1066.9,239.0C1069.9,243.0 1074.6,249.2 1077.2,252.3C1079.9,255.5 1080.6,255.8 1082.8,258.1C1084.9,260.4 1088.0,263.2 1090.2,266.3C1092.4,269.3 1094.1,273.3 1096.1,276.6C1098.1,279.9 1100.0,283.6 1102.0,286.2C1104.0,288.8 1105.7,290.3 1107.9,292.1C1110.1,293.9 1112.8,295.8 1115.3,297.0C1117.8,298.2 1120.2,298.8 1122.7,299.5C1125.2,300.3 1127.6,300.8 1130.1,301.4C1132.5,302.1 1135.5,302.3 1137.5,303.2C1139.4,304.1 1140.4,306.2 1141.9,306.9C1143.4,307.6 1144.6,307.8 1146.3,307.6C1148.1,307.5 1150.0,306.4 1152.3,306.2C1154.5,305.9 1157.2,306.2 1159.6,306.2C1162.1,306.2 1164.8,306.4 1167.0,306.2C1169.3,305.9 1170.7,305.8 1172.9,304.7C1175.2,303.6 1179.2,300.4 1180.5,299.5" fill="none" stroke="#2962ff" stroke-width="3" stroke-linejoin="round" stroke-linecap="round"/>
<line x1="450" y1="269.5" x2="1277" y2="269.5" stroke="#0000ff" stroke-width="3" stroke-dasharray="15 18" shape-rendering="crispEdges"/>
<g shape-rendering="crispEdges">
<rect x="9" y="459" width="1" height="8" fill="#26a69a"/><rect x="8" y="462" width="3" height="5" fill="#26a69a"/>
<rect x="14" y="455" width="1" height="7" fill="#26a69a"/><rect x="13" y="458" width="3" height="4" fill="#26a69a"/>
<rect x="18" y="457" width="1" height="10" fill="#ef5350"/><rect x="17" y="458" width="3" height="7" fill="#ef5350"/>
<rect x="22" y="456" width="1" height="9" fill="#26a69a"/><rect x="21" y="459" width="3" height="6" fill="#26a69a"/>
<rect x="26" y="458" width="1" height="8" fill="#26a69a"/><rect x="25" y="458" width="3" height="1" fill="#26a69a"/>
<rect x="31" y="440" width="1" height="19" fill="#26a69a"/><rect x="30" y="442" width="3" height="17" fill="#26a69a"/>
<rect x="35" y="440" width="1" height="16" fill="#ef5350"/><rect x="34" y="442" width="3" height="10" fill="#ef5350"/>
<rect x="39" y="450" width="1" height="8" fill="#ef5350"/><rect x="38" y="451" width="3" height="4" fill="#ef5350"/>
<rect x="44" y="448" width="1" height="7" fill="#26a69a"/><rect x="43" y="452" width="3" height="3" fill="#26a69a"/>
<rect x="48" y="446" width="1" height="7" fill="#26a69a"/><rect x="47" y="448" width="3" height="5" fill="#26a69a"/>
<rect x="52" y="435" width="1" height="17" fill="#26a69a"/><rect x="51" y="438" width="3" height="11" fill="#26a69a"/>
<rect x="57" y="436" width="1" height="7" fill="#ef5350"/><rect x="56" y="438" width="3" height="3" fill="#ef5350"/>
<rect x="61" y="439" width="1" height="13" fill="#ef5350"/><rect x="60" y="440" width="3" height="9" fill="#ef5350"/>
<rect x="65" y="444" width="1" height="7" fill="#ef5350"/><rect x="64" y="448" width="3" height="1" fill="#ef5350"/>
<rect x="70" y="447" width="1" height="20" fill="#ef5350"/><rect x="69" y="449" width="3" height="15" fill="#ef5350"/>
<rect x="74" y="461" width="1" height="15" fill="#ef5350"/><rect x="73" y="463" width="3" height="10" fill="#ef5350"/>
<rect x="78" y="469" width="1" height="11" fill="#ef5350"/><rect x="77" y="472" width="3" height="4" fill="#ef5350"/>
<rect x="83" y="469" width="1" height="10" fill="#26a69a"/><rect x="82" y="473" width="3" height="3" fill="#26a69a"/>
<rect x="87" y="459" width="1" height="15" fill="#26a69a"/><rect x="86" y="462" width="3" height="12" fill="#26a69a"/>
<rect x="91" y="455" width="1" height="23" fill="#ef5350"/><rect x="90" y="462" width="3" height="16" fill="#ef5350"/>
<rect x="96" y="470" width="1" height="13" fill="#26a69a"/><rect x="95" y="474" width="3" height="4" fill="#26a69a"/>
<rect x="100" y="471" width="1" height="10" fill="#ef5350"/><rect x="99" y="474" width="3" height="1" fill="#ef5350"/>
<rect x="104" y="472" width="1" height="9" fill="#ef5350"/><rect x="103" y="474" width="3" height="2" fill="#ef5350"/>
<rect x="109" y="474" width="1" height="37" fill="#ef5350"/><rect x="108" y="475" width="3" height="30" fill="#ef5350"/>
<rect x="113" y="497" width="1" height="31" fill="#ef5350"/><rect x="112" y="505" width="3" height="5" fill="#ef5350"/>
<rect x="117" y="500" width="1" height="24" fill="#ef5350"/><rect x="116" y="509" width="3" height="12" fill="#ef5350"/>
<rect x="122" y="491" width="1" height="40" fill="#26a69a"/><rect x="121" y="493" width="3" height="28" fill="#26a69a"/>
<rect x="126" y="493" width="1" height="27" fill="#ef5350"/><rect x="125" y="493" width="3" height="21" fill="#ef5350"/>
<rect x="130" y="504" width="1" height="11" fill="#26a69a"/><rect x="129" y="507" width="3" height="7" fill="#26a69a"/>
<rect x="134" y="493" width="1" height="17" fill="#26a69a"/><rect x="133" y="497" width="3" height="11" fill="#26a69a"/>
<rect x="139" y="496" width="1" height="12" fill="#ef5350"/><rect x="138" y="497" width="3" height="7" fill="#ef5350"/>
<rect x="143" y="490" width="1" height="14" fill="#26a69a"/><rect x="142" y="499" width="3" height="5" fill="#26a69a"/>
<rect x="147" y="494" width="1" height="11" fill="#ef5350"/><rect x="146" y="499" width="3" height="5" fill="#ef5350"/>
<rect x="152" y="501" width="1" height="10" fill="#ef5350"/><rect x="151" y="504" width="3" height="3" fill="#ef5350"/>
<rect x="156" y="500" width="1" height="8" fill="#26a69a"/><rect x="155" y="504" width="3" height="1" fill="#26a69a"/>
<rect x="160" y="503" width="1" height="2" fill="#26a69a"/><rect x="159" y="504" width="3" height="1" fill="#26a69a"/>
<rect x="165" y="498" width="1" height="6" fill="#26a69a"/><rect x="164" y="501" width="3" height="3" fill="#26a69a"/>
<rect x="169" y="500" width="1" height="7" fill="#ef5350"/><rect x="168" y="501" width="3" height="4" fill="#ef5350"/>
<rect x="173" y="495" width="1" height="12" fill="#ef5350"/><rect x="172" y="504" width="3" height="1" fill="#ef5350"/>
<rect x="178" y="479" width="1" height="32" fill="#26a69a"/><rect x="177" y="482" width="3" height="23" fill="#26a69a"/>
<rect x="182" y="471" width="1" height="12" fill="#26a69a"/><rect x="181" y="477" width="3" height="6" fill="#26a69a"/>
<rect x="186" y="476" width="1" height="10" fill="#ef5350"/><rect x="185" y="477" width="3" height="4" fill="#ef5350"/>
<rect x="191" y="472" width="1" height="12" fill="#26a69a"/><rect x="190" y="478" width="3" height="3" fill="#26a69a"/>
<rect x="195" y="470" width="1" height="9" fill="#26a69a"/><rect x="194" y="473" width="3" height="6" fill="#26a69a"/>
<rect x="199" y="468" width="1" height="9" fill="#ef5350"/><rect x="198" y="473" width="3" height="4" fill="#ef5350"/>
<rect x="204" y="472" width="1" height="11" fill="#26a69a"/><rect x="203" y="476" width="3" height="1" fill="#26a69a"/>
<rect x="208" y="470" width="1" height="8" fill="#ef5350"/><rect x="207" y="476" width="3" height="2" fill="#ef5350"/>
<rect x="212" y="474" width="1" height="11" fill="#ef5350"/><rect x="211" y="477" width="3" height="1" fill="#ef5350"/>
<rect x="217" y="466" width="1" height="12" fill="#26a69a"/><rect x="216" y="471" width="3" height="7" fill="#26a69a"/>
<rect x="221" y="466" width="1" height="8" fill="#26a69a"/><rect x="220" y="470" width="3" height="1" fill="#26a69a"/>
<rect x="225" y="469" width="1" height="6" fill="#ef5350"/><rect x="224" y="470" width="3" height="2" fill="#ef5350"/>
<rect x="230" y="469" width="1" height="7" fill="#ef5350"/><rect x="229" y="471" width="3" height="5" fill="#ef5350"/>
<rect x="234" y="471" width="1" height="7" fill="#26a69a"/><rect x="233" y="473" width="3" height="3" fill="#26a69a"/>
<rect x="238" y="473" width="1" height="9" fill="#ef5350"/><rect x="237" y="473" width="3" height="1" fill="#ef5350"/>
<rect x="243" y="469" width="1" height="9" fill="#ef5350"/><rect x="242" y="474" width="3" height="1" fill="#ef5350"/>
<rect x="247" y="419" width="1" height="56" fill="#26a69a"/><rect x="246" y="421" width="3" height="54" fill="#26a69a"/>
<rect x="251" y="383" width="1" height="41" fill="#26a69a"/><rect x="250" y="403" width="3" height="19" fill="#26a69a"/>
<rect x="255" y="369" width="1" height="38" fill="#26a69a"/><rect x="254" y="371" width="3" height="32" fill="#26a69a"/>
<rect x="260" y="368" width="1" height="23" fill="#ef5350"/><rect x="259" y="371" width="3" height="10" fill="#ef5350"/>
<rect x="264" y="366" width="1" height="29" fill="#ef5350"/><rect x="263" y="380" width="3" height="4" fill="#ef5350"/>
<rect x="268" y="350" width="1" height="44" fill="#26a69a"/><rect x="267" y="358" width="3" height="26" fill="#26a69a"/>
<rect x="273" y="352" width="1" height="24" fill="#ef5350"/><rect x="272" y="358" width="3" height="11" fill="#ef5350"/>
<rect x="277" y="363" width="1" height="22" fill="#ef5350"/><rect x="276" y="368" width="3" height="9" fill="#ef5350"/>
<rect x="281" y="362" width="1" height="16" fill="#ef5350"/><rect x="280" y="376" width="3" height="2" fill="#ef5350"/>
<rect x="286" y="377" width="1" height="12" fill="#ef5350"/><rect x="285" y="377" width="3" height="10" fill="#ef5350"/>
<rect x="290" y="371" width="1" height="35" fill="#26a69a"/><rect x="289" y="383" width="3" height="4" fill="#26a69a"/>
<rect x="294" y="376" width="1" height="27" fill="#26a69a"/><rect x="293" y="378" width="3" height="6" fill="#26a69a"/>
<rect x="299" y="370" width="1" height="20" fill="#ef5350"/><rect x="298" y="378" width="3" height="1" fill="#ef5350"/>
<rect x="303" y="367" width="1" height="22" fill="#26a69a"/><rect x="302" y="375" width="3" height="5" fill="#26a69a"/>
<rect x="307" y="356" width="1" height="20" fill="#26a69a"/><rect x="306" y="360" width="3" height="16" fill="#26a69a"/>
<rect x="312" y="351" width="1" height="31" fill="#ef5350"/><rect x="311" y="360" width="3" height="20" fill="#ef5350"/>
<rect x="316" y="372" width="1" height="8" fill="#26a69a"/><rect x="315" y="378" width="3" height="1" fill="#26a69a"/>
<rect x="320" y="375" width="1" height="12" fill="#26a69a"/><rect x="319" y="375" width="3" height="3" fill="#26a69a"/>
<rect x="325" y="369" width="1" height="10" fill="#26a69a"/><rect x="324" y="374" width="3" height="2" fill="#26a69a"/>
<rect x="329" y="354" width="1" height="27" fill="#26a69a"/><rect x="328" y="361" width="3" height="13" fill="#26a69a"/>
<rect x="333" y="357" width="1" height="11" fill="#26a69a"/><rect x="332" y="358" width="3" height="4" fill="#26a69a"/>
<rect x="338" y="344" width="1" height="22" fill="#ef5350"/><rect x="337" y="358" width="3" height="8" fill="#ef5350"/>
<rect x="342" y="362" width="1" height="19" fill="#ef5350"/><rect x="341" y="365" width="3" height="14" fill="#ef5350"/>
<rect x="346" y="376" width="1" height="10" fill="#ef5350"/><rect x="345" y="378" width="3" height="1" fill="#ef5350"/>
<rect x="351" y="376" width="1" height="10" fill="#26a69a"/><rect x="350" y="377" width="3" height="1" fill="#26a69a"/>
<rect x="355" y="367" width="1" height="19" fill="#26a69a"/><rect x="354" y="368" width="3" height="10" fill="#26a69a"/>
<rect x="359" y="361" width="1" height="11" fill="#ef5350"/><rect x="358" y="368" width="3" height="3" fill="#ef5350"/>
<rect x="364" y="358" width="1" height="13" fill="#26a69a"/><rect x="363" y="368" width="3" height="3" fill="#26a69a"/>
<rect x="368" y="363" width="1" height="34" fill="#ef5350"/><rect x="367" y="368" width="3" height="27" fill="#ef5350"/>
<rect x="372" y="378" width="1" height="20" fill="#26a69a"/><rect x="371" y="385" width="3" height="10" fill="#26a69a"/>
<rect x="376" y="376" width="1" height="12" fill="#26a69a"/><rect x="375" y="380" width="3" height="6" fill="#26a69a"/>
<rect x="381" y="376" width="1" height="8" fill="#ef5350"/><rect x="380" y="379" width="3" height="3" fill="#ef5350"/>
<rect x="385" y="356" width="1" height="29" fill="#26a69a"/><rect x="384" y="358" width="3" height="23" fill="#26a69a"/>
<rect x="389" y="339" width="1" height="22" fill="#26a69a"/><rect x="388" y="340" width="3" height="19" fill="#26a69a"/>
<rect x="394" y="332" width="1" height="18" fill="#ef5350"/><rect x="393" y="340" width="3" height="7" fill="#ef5350"/>
<rect x="398" y="344" width="1" height="23" fill="#ef5350"/><rect x="397" y="346" width="3" height="18" fill="#ef5350"/>
<rect x="402" y="363" width="1" height="28" fill="#ef5350"/><rect x="401" y="363" width="3" height="9" fill="#ef5350"/>
<rect x="407" y="372" width="1" height="12" fill="#ef5350"/><rect x="406" y="372" width="3" height="7" fill="#ef5350"/>
<rect x="411" y="374" width="1" height="9" fill="#26a69a"/><rect x="410" y="376" width="3" height="3" fill="#26a69a"/>
<rect x="415" y="358" width="1" height="22" fill="#ef5350"/><rect x="414" y="376" width="3" height="1" fill="#ef5350"/>
<rect x="420" y="366" width="1" height="22" fill="#ef5350"/><rect x="419" y="376" width="3" height="6" fill="#ef5350"/>
<rect x="424" y="376" width="1" height="11" fill="#26a69a"/><rect x="423" y="379" width="3" height="3" fill="#26a69a"/>
<rect x="428" y="376" width="1" height="8" fill="#ef5350"/><rect x="427" y="379" width="3" height="1" fill="#ef5350"/>
<rect x="433" y="373" width="1" height="27" fill="#ef5350"/><rect x="432" y="379" width="3" height="16" fill="#ef5350"/>
<rect x="437" y="389" width="1" height="31" fill="#ef5350"/><rect x="436" y="395" width="3" height="15" fill="#ef5350"/>
<rect x="441" y="407" width="1" height="27" fill="#ef5350"/><rect x="440" y="410" width="3" height="9" fill="#ef5350"/>
<rect x="446" y="391" width="1" height="33" fill="#26a69a"/><rect x="445" y="394" width="3" height="26" fill="#26a69a"/>
<rect x="450" y="385" width="1" height="14" fill="#26a69a"/><rect x="449" y="389" width="3" height="6" fill="#26a69a"/>
<rect x="454" y="386" width="1" height="11" fill="#ef5350"/><rect x="453" y="389" width="3" height="5" fill="#ef5350"/>
<rect x="459" y="379" width="1" height="17" fill="#ef5350"/><rect x="458" y="393" width="3" height="1" fill="#ef5350"/>
<rect x="463" y="387" width="1" height="11" fill="#26a69a"/><rect x="462" y="393" width="3" height="1" fill="#26a69a"/>
<rect x="467" y="389" width="1" height="6" fill="#26a69a"/><rect x="466" y="391" width="3" height="3" fill="#26a69a"/>
<rect x="472" y="379" width="1" height="14" fill="#26a69a"/><rect x="471" y="382" width="3" height="9" fill="#26a69a"/>
<rect x="476" y="379" width="1" height="12" fill="#ef5350"/><rect x="475" y="382" width="3" height="3" fill="#ef5350"/>
<rect x="480" y="382" width="1" height="15" fill="#ef5350"/><rect x="479" y="385" width="3" height="11" fill="#ef5350"/>
<rect x="484" y="366" width="1" height="33" fill="#26a69a"/><rect x="483" y="373" width="3" height="23" fill="#26a69a"/>
<rect x="489" y="364" width="1" height="11" fill="#26a69a"/><rect x="488" y="370" width="3" height="4" fill="#26a69a"/>
<rect x="493" y="368" width="1" height="18" fill="#ef5350"/><rect x="492" y="370" width="3" height="12" fill="#ef5350"/>
<rect x="497" y="378" width="1" height="6" fill="#26a69a"/><rect x="496" y="379" width="3" height="3" fill="#26a69a"/>
<rect x="502" y="368" width="1" height="14" fill="#26a69a"/><rect x="501" y="373" width="3" height="8" fill="#26a69a"/>
<rect x="506" y="370" width="1" height="11" fill="#ef5350"/><rect x="505" y="373" width="3" height="5" fill="#ef5350"/>
<rect x="510" y="365" width="1" height="14" fill="#26a69a"/><rect x="509" y="367" width="3" height="11" fill="#26a69a"/>
<rect x="515" y="343" width="1" height="26" fill="#26a69a"/><rect x="514" y="346" width="3" height="22" fill="#26a69a"/>
<rect x="519" y="315" width="1" height="33" fill="#26a69a"/><rect x="518" y="322" width="3" height="25" fill="#26a69a"/>
<rect x="523" y="310" width="1" height="17" fill="#26a69a"/><rect x="522" y="321" width="3" height="1" fill="#26a69a"/>
<rect x="528" y="318" width="1" height="10" fill="#ef5350"/><rect x="527" y="321" width="3" height="2" fill="#ef5350"/>
<rect x="532" y="313" width="1" height="10" fill="#26a69a"/><rect x="531" y="319" width="3" height="4" fill="#26a69a"/>
<rect x="536" y="304" width="1" height="15" fill="#26a69a"/><rect x="535" y="314" width="3" height="5" fill="#26a69a"/>
<rect x="541" y="296" width="1" height="28" fill="#26a69a"/><rect x="540" y="297" width="3" height="18" fill="#26a69a"/>
<rect x="545" y="259" width="1" height="43" fill="#26a69a"/><rect x="544" y="266" width="3" height="32" fill="#26a69a"/>
<rect x="549" y="245" width="1" height="29" fill="#26a69a"/><rect x="548" y="252" width="3" height="15" fill="#26a69a"/>
<rect x="554" y="225" width="1" height="29" fill="#26a69a"/><rect x="553" y="242" width="3" height="11" fill="#26a69a"/>
<rect x="558" y="234" width="1" height="14" fill="#26a69a"/><rect x="557" y="236" width="3" height="7" fill="#26a69a"/>
<rect x="562" y="205" width="1" height="33" fill="#26a69a"/><rect x="561" y="214" width="3" height="23" fill="#26a69a"/>
<rect x="567" y="200" width="1" height="22" fill="#26a69a"/><rect x="566" y="213" width="3" height="1" fill="#26a69a"/>
<rect x="571" y="209" width="1" height="24" fill="#ef5350"/><rect x="570" y="213" width="3" height="4" fill="#ef5350"/>
<rect x="575" y="213" width="1" height="32" fill="#ef5350"/><rect x="574" y="216" width="3" height="16" fill="#ef5350"/>
<rect x="580" y="212" width="1" height="36" fill="#26a69a"/><rect x="579" y="221" width="3" height="11" fill="#26a69a"/>
<rect x="584" y="215" width="1" height="24" fill="#26a69a"/><rect x="583" y="218" width="3" height="4" fill="#26a69a"/>
<rect x="588" y="209" width="1" height="13" fill="#26a69a"/><rect x="587" y="216" width="3" height="3" fill="#26a69a"/>
<rect x="593" y="198" width="1" height="20" fill="#26a69a"/><rect x="592" y="199" width="3" height="18" fill="#26a69a"/>
<rect x="597" y="189" width="1" height="25" fill="#ef5350"/><rect x="596" y="199" width="3" height="10" fill="#ef5350"/>
<rect x="601" y="197" width="1" height="23" fill="#ef5350"/><rect x="600" y="208" width="3" height="1" fill="#ef5350"/>
<rect x="605" y="204" width="1" height="21" fill="#26a69a"/><rect x="604" y="207" width="3" height="3" fill="#26a69a"/>
<rect x="610" y="198" width="1" height="26" fill="#ef5350"/><rect x="609" y="207" width="3" height="16" fill="#ef5350"/>
<rect x="614" y="219" width="1" height="39" fill="#ef5350"/><rect x="613" y="222" width="3" height="29" fill="#ef5350"/>
<rect x="618" y="243" width="1" height="23" fill="#ef5350"/><rect x="617" y="250" width="3" height="14" fill="#ef5350"/>
<rect x="623" y="246" width="1" height="23" fill="#26a69a"/><rect x="622" y="249" width="3" height="15" fill="#26a69a"/>
<rect x="627" y="217" width="1" height="32" fill="#26a69a"/><rect x="626" y="219" width="3" height="30" fill="#26a69a"/>
<rect x="631" y="219" width="1" height="23" fill="#ef5350"/><rect x="630" y="219" width="3" height="15" fill="#ef5350"/>
<rect x="636" y="222" width="1" height="18" fill="#26a69a"/><rect x="635" y="224" width="3" height="10" fill="#26a69a"/>
<rect x="640" y="191" width="1" height="38" fill="#26a69a"/><rect x="639" y="194" width="3" height="31" fill="#26a69a"/>
<rect x="644" y="172" width="1" height="26" fill="#26a69a"/><rect x="643" y="180" width="3" height="15" fill="#26a69a"/>
<rect x="649" y="138" width="1" height="43" fill="#26a69a"/><rect x="648" y="147" width="3" height="34" fill="#26a69a"/>
<rect x="653" y="137" width="1" height="24" fill="#ef5350"/><rect x="652" y="147" width="3" height="2" fill="#ef5350"/>
<rect x="657" y="133" width="1" height="26" fill="#ef5350"/><rect x="656" y="148" width="3" height="5" fill="#ef5350"/>
<rect x="662" y="96" width="1" height="57" fill="#26a69a"/><rect x="661" y="103" width="3" height="50" fill="#26a69a"/>
<rect x="666" y="77" width="1" height="29" fill="#26a69a"/><rect x="665" y="81" width="3" height="23" fill="#26a69a"/>
<rect x="670" y="76" width="1" height="45" fill="#ef5350"/><rect x="669" y="81" width="3" height="28" fill="#ef5350"/>
<rect x="675" y="92" width="1" height="40" fill="#ef5350"/><rect x="674" y="108" width="3" height="16" fill="#ef5350"/>
<rect x="679" y="116" width="1" height="16" fill="#ef5350"/><rect x="678" y="123" width="3" height="3" fill="#ef5350"/>
<rect x="683" y="105" width="1" height="24" fill="#26a69a"/><rect x="682" y="118" width="3" height="8" fill="#26a69a"/>
<rect x="688" y="117" width="1" height="34" fill="#ef5350"/><rect x="687" y="118" width="3" height="22" fill="#ef5350"/>
<rect x="692" y="134" width="1" height="39" fill="#ef5350"/><rect x="691" y="140" width="3" height="32" fill="#ef5350"/>
<rect x="696" y="131" width="1" height="43" fill="#26a69a"/><rect x="695" y="137" width="3" height="35" fill="#26a69a"/>
<rect x="701" y="136" width="1" height="17" fill="#ef5350"/><rect x="700" y="137" width="3" height="15" fill="#ef5350"/>
<rect x="705" y="63" width="1" height="89" fill="#26a69a"/><rect x="704" y="70" width="3" height="82" fill="#26a69a"/>
<rect x="709" y="70" width="1" height="23" fill="#ef5350"/><rect x="708" y="70" width="3" height="8" fill="#ef5350"/>
<rect x="713" y="54" width="1" height="32" fill="#26a69a"/><rect x="712" y="77" width="3" height="1" fill="#26a69a"/>
<rect x="718" y="75" width="1" height="61" fill="#ef5350"/><rect x="717" y="77" width="3" height="55" fill="#ef5350"/>
<rect x="722" y="97" width="1" height="43" fill="#26a69a"/><rect x="721" y="101" width="3" height="31" fill="#26a69a"/>
<rect x="726" y="93" width="1" height="24" fill="#ef5350"/><rect x="725" y="101" width="3" height="14" fill="#ef5350"/>
<rect x="731" y="97" width="1" height="27" fill="#26a69a"/><rect x="730" y="113" width="3" height="1" fill="#26a69a"/>
<rect x="735" y="112" width="1" height="34" fill="#ef5350"/><rect x="734" y="113" width="3" height="21" fill="#ef5350"/>
<rect x="739" y="126" width="1" height="21" fill="#26a69a"/><rect x="738" y="132" width="3" height="2" fill="#26a69a"/>
<rect x="744" y="115" width="1" height="18" fill="#26a69a"/><rect x="743" y="129" width="3" height="4" fill="#26a69a"/>
<rect x="748" y="116" width="1" height="37" fill="#ef5350"/><rect x="747" y="129" width="3" height="11" fill="#ef5350"/>
<rect x="752" y="126" width="1" height="21" fill="#26a69a"/><rect x="751" y="138" width="3" height="3" fill="#26a69a"/>
<rect x="757" y="116" width="1" height="28" fill="#26a69a"/><rect x="756" y="121" width="3" height="18" fill="#26a69a"/>
<rect x="761" y="117" width="1" height="29" fill="#ef5350"/><rect x="760" y="121" width="3" height="22" fill="#ef5350"/>
<rect x="765" y="116" width="1" height="31" fill="#26a69a"/><rect x="764" y="140" width="3" height="3" fill="#26a69a"/>
<rect x="770" y="138" width="1" height="12" fill="#ef5350"/><rect x="769" y="140" width="3" height="6" fill="#ef5350"/>
<rect x="774" y="137" width="1" height="9" fill="#26a69a"/><rect x="773" y="141" width="3" height="5" fill="#26a69a"/>
<rect x="778" y="130" width="1" height="14" fill="#26a69a"/><rect x="777" y="141" width="3" height="1" fill="#26a69a"/>
<rect x="783" y="131" width="1" height="14" fill="#26a69a"/><rect x="782" y="140" width="3" height="1" fill="#26a69a"/>
<rect x="787" y="121" width="1" height="22" fill="#26a69a"/><rect x="786" y="135" width="3" height="6" fill="#26a69a"/>
<rect x="791" y="117" width="1" height="19" fill="#26a69a"/><rect x="790" y="120" width="3" height="16" fill="#26a69a"/>
<rect x="796" y="81" width="1" height="40" fill="#26a69a"/><rect x="795" y="86" width="3" height="35" fill="#26a69a"/>
<rect x="800" y="79" width="1" height="22" fill="#ef5350"/><rect x="799" y="86" width="3" height="7" fill="#ef5350"/>
<rect x="804" y="89" width="1" height="15" fill="#ef5350"/><rect x="803" y="92" width="3" height="10" fill="#ef5350"/>
<rect x="809" y="92" width="1" height="27" fill="#ef5350"/><rect x="808" y="101" width="3" height="12" fill="#ef5350"/>
<rect x="813" y="110" width="1" height="15" fill="#ef5350"/><rect x="812" y="112" width="3" height="4" fill="#ef5350"/>
<rect x="817" y="99" width="1" height="27" fill="#26a69a"/><rect x="816" y="103" width="3" height="13" fill="#26a69a"/>
<rect x="822" y="95" width="1" height="13" fill="#ef5350"/><rect x="821" y="103" width="3" height="1" fill="#ef5350"/>
<rect x="826" y="99" width="1" height="24" fill="#ef5350"/><rect x="825" y="103" width="3" height="16" fill="#ef5350"/>
<rect x="830" y="114" width="1" height="7" fill="#26a69a"/><rect x="829" y="117" width="3" height="2" fill="#26a69a"/>
<rect x="834" y="115" width="1" height="8" fill="#ef5350"/><rect x="833" y="117" width="3" height="6" fill="#ef5350"/>
<rect x="839" y="121" width="1" height="50" fill="#ef5350"/><rect x="838" y="122" width="3" height="34" fill="#ef5350"/>
<rect x="843" y="151" width="1" height="15" fill="#ef5350"/><rect x="842" y="155" width="3" height="6" fill="#ef5350"/>
<rect x="847" y="154" width="1" height="18" fill="#ef5350"/><rect x="846" y="160" width="3" height="2" fill="#ef5350"/>
<rect x="852" y="160" width="1" height="46" fill="#ef5350"/><rect x="851" y="161" width="3" height="38" fill="#ef5350"/>
<rect x="856" y="172" width="1" height="27" fill="#26a69a"/><rect x="855" y="177" width="3" height="22" fill="#26a69a"/>
<rect x="860" y="176" width="1" height="9" fill="#ef5350"/><rect x="859" y="177" width="3" height="3" fill="#ef5350"/>
<rect x="865" y="162" width="1" height="24" fill="#26a69a"/><rect x="864" y="163" width="3" height="17" fill="#26a69a"/>
<rect x="869" y="150" width="1" height="21" fill="#26a69a"/><rect x="868" y="153" width="3" height="11" fill="#26a69a"/>
<rect x="873" y="149" width="1" height="20" fill="#ef5350"/><rect x="872" y="153" width="3" height="10" fill="#ef5350"/>
<rect x="878" y="134" width="1" height="31" fill="#26a69a"/><rect x="877" y="135" width="3" height="28" fill="#26a69a"/>
<rect x="882" y="112" width="1" height="25" fill="#26a69a"/><rect x="881" y="117" width="3" height="19" fill="#26a69a"/>
<rect x="886" y="102" width="1" height="22" fill="#26a69a"/><rect x="885" y="113" width="3" height="5" fill="#26a69a"/>
<rect x="891" y="112" width="1" height="11" fill="#ef5350"/><rect x="890" y="113" width="3" height="4" fill="#ef5350"/>
<rect x="895" y="99" width="1" height="20" fill="#26a69a"/><rect x="894" y="113" width="3" height="4" fill="#26a69a"/>
<rect x="899" y="83" width="1" height="33" fill="#26a69a"/><rect x="898" y="90" width="3" height="24" fill="#26a69a"/>
<rect x="904" y="81" width="1" height="43" fill="#ef5350"/><rect x="903" y="90" width="3" height="33" fill="#ef5350"/>
<rect x="908" y="107" width="1" height="20" fill="#26a69a"/><rect x="907" y="111" width="3" height="12" fill="#26a69a"/>
<rect x="912" y="110" width="1" height="36" fill="#ef5350"/><rect x="911" y="111" width="3" height="22" fill="#ef5350"/>
<rect x="917" y="131" width="1" height="126" fill="#ef5350"/><rect x="916" y="132" width="3" height="73" fill="#ef5350"/>
<rect x="921" y="198" width="1" height="31" fill="#ef5350"/><rect x="920" y="204" width="3" height="12" fill="#ef5350"/>
<rect x="925" y="155" width="1" height="67" fill="#26a69a"/><rect x="924" y="161" width="3" height="55" fill="#26a69a"/>
<rect x="930" y="143" width="1" height="33" fill="#26a69a"/><rect x="929" y="149" width="3" height="13" fill="#26a69a"/>
<rect x="934" y="146" width="1" height="50" fill="#ef5350"/><rect x="933" y="149" width="3" height="17" fill="#ef5350"/>
<rect x="938" y="152" width="1" height="39" fill="#ef5350"/><rect x="937" y="165" width="3" height="20" fill="#ef5350"/>
<rect x="942" y="170" width="1" height="35" fill="#ef5350"/><rect x="941" y="184" width="3" height="13" fill="#ef5350"/>
<rect x="947" y="188" width="1" height="37" fill="#ef5350"/><rect x="946" y="196" width="3" height="9" fill="#ef5350"/>
<rect x="951" y="191" width="1" height="15" fill="#26a69a"/><rect x="950" y="196" width="3" height="9" fill="#26a69a"/>
<rect x="955" y="177" width="1" height="28" fill="#26a69a"/><rect x="954" y="184" width="3" height="13" fill="#26a69a"/>
<rect x="960" y="170" width="1" height="24" fill="#ef5350"/><rect x="959" y="184" width="3" height="1" fill="#ef5350"/>
<rect x="964" y="167" width="1" height="36" fill="#ef5350"/><rect x="963" y="184" width="3" height="16" fill="#ef5350"/>
<rect x="968" y="196" width="1" height="24" fill="#ef5350"/><rect x="967" y="199" width="3" height="10" fill="#ef5350"/>
<rect x="973" y="190" width="1" height="19" fill="#26a69a"/><rect x="972" y="201" width="3" height="8" fill="#26a69a"/>
<rect x="977" y="179" width="1" height="23" fill="#26a69a"/><rect x="976" y="190" width="3" height="12" fill="#26a69a"/>
<rect x="981" y="186" width="1" height="7" fill="#26a69a"/><rect x="980" y="188" width="3" height="3" fill="#26a69a"/>
<rect x="986" y="158" width="1" height="34" fill="#26a69a"/><rect x="985" y="160" width="3" height="29" fill="#26a69a"/>
<rect x="990" y="148" width="1" height="21" fill="#ef5350"/><rect x="989" y="160" width="3" height="7" fill="#ef5350"/>
<rect x="994" y="158" width="1" height="33" fill="#ef5350"/><rect x="993" y="166" width="3" height="19" fill="#ef5350"/>
<rect x="999" y="177" width="1" height="26" fill="#ef5350"/><rect x="998" y="184" width="3" height="12" fill="#ef5350"/>
<rect x="1003" y="188" width="1" height="36" fill="#ef5350"/><rect x="1002" y="195" width="3" height="14" fill="#ef5350"/>
<rect x="1007" y="194" width="1" height="15" fill="#26a69a"/><rect x="1006" y="202" width="3" height="7" fill="#26a69a"/>
<rect x="1012" y="194" width="1" height="10" fill="#26a69a"/><rect x="1011" y="198" width="3" height="5" fill="#26a69a"/>
<rect x="1016" y="193" width="1" height="10" fill="#26a69a"/><rect x="1015" y="194" width="3" height="5" fill="#26a69a"/>
<rect x="1020" y="193" width="1" height="48" fill="#ef5350"/><rect x="1019" y="194" width="3" height="42" fill="#ef5350"/>
<rect x="1025" y="228" width="1" height="80" fill="#ef5350"/><rect x="1024" y="235" width="3" height="43" fill="#ef5350"/>
<rect x="1029" y="251" width="1" height="42" fill="#26a69a"/><rect x="1028" y="259" width="3" height="19" fill="#26a69a"/>
<rect x="1033" y="254" width="1" height="29" fill="#ef5350"/><rect x="1032" y="259" width="3" height="15" fill="#ef5350"/>
<rect x="1038" y="252" width="1" height="37" fill="#26a69a"/><rect x="1037" y="257" width="3" height="17" fill="#26a69a"/>
<rect x="1042" y="250" width="1" height="18" fill="#ef5350"/><rect x="1041" y="257" width="3" height="6" fill="#ef5350"/>
<rect x="1046" y="232" width="1" height="35" fill="#26a69a"/><rect x="1045" y="237" width="3" height="26" fill="#26a69a"/>
<rect x="1051" y="227" width="1" height="21" fill="#ef5350"/><rect x="1050" y="237" width="3" height="3" fill="#ef5350"/>
<rect x="1055" y="229" width="1" height="32" fill="#ef5350"/><rect x="1054" y="239" width="3" height="21" fill="#ef5350"/>
<rect x="1059" y="237" width="1" height="29" fill="#ef5350"/><rect x="1058" y="259" width="3" height="1" fill="#ef5350"/>
<rect x="1063" y="240" width="1" height="55" fill="#ef5350"/><rect x="1062" y="260" width="3" height="25" fill="#ef5350"/>
<rect x="1068" y="281" width="1" height="25" fill="#ef5350"/><rect x="1067" y="284" width="3" height="17" fill="#ef5350"/>
<rect x="1072" y="285" width="1" height="16" fill="#26a69a"/><rect x="1071" y="293" width="3" height="8" fill="#26a69a"/>
<rect x="1076" y="282" width="1" height="33" fill="#ef5350"/><rect x="1075" y="293" width="3" height="11" fill="#ef5350"/>
<rect x="1081" y="285" width="1" height="36" fill="#ef5350"/><rect x="1080" y="303" width="3" height="9" fill="#ef5350"/>
<rect x="1085" y="293" width="1" height="30" fill="#26a69a"/><rect x="1084" y="299" width="3" height="13" fill="#26a69a"/>
<rect x="1089" y="299" width="1" height="33" fill="#ef5350"/><rect x="1088" y="299" width="3" height="14" fill="#ef5350"/>
<rect x="1094" y="307" width="1" height="36" fill="#ef5350"/><rect x="1093" y="312" width="3" height="27" fill="#ef5350"/>
<rect x="1098" y="331" width="1" height="35" fill="#ef5350"/><rect x="1097" y="338" width="3" height="10" fill="#ef5350"/>
<rect x="1102" y="342" width="1" height="13" fill="#26a69a"/><rect x="1101" y="346" width="3" height="1" fill="#26a69a"/>
<rect x="1107" y="334" width="1" height="13" fill="#26a69a"/><rect x="1106" y="342" width="3" height="5" fill="#26a69a"/>
<rect x="1111" y="317" width="1" height="30" fill="#26a69a"/><rect x="1110" y="322" width="3" height="21" fill="#26a69a"/>
<rect x="1115" y="318" width="1" height="16" fill="#26a69a"/><rect x="1114" y="321" width="3" height="1" fill="#26a69a"/>
<rect x="1120" y="309" width="1" height="21" fill="#26a69a"/><rect x="1119" y="312" width="3" height="10" fill="#26a69a"/>
<rect x="1124" y="306" width="1" height="11" fill="#ef5350"/><rect x="1123" y="312" width="3" height="2" fill="#ef5350"/>
<rect x="1128" y="302" width="1" height="14" fill="#26a69a"/><rect x="1127" y="311" width="3" height="3" fill="#26a69a"/>
<rect x="1133" y="308" width="1" height="12" fill="#ef5350"/><rect x="1132" y="311" width="3" height="7" fill="#ef5350"/>
<rect x="1137" y="308" width="1" height="11" fill="#26a69a"/><rect x="1136" y="317" width="3" height="1" fill="#26a69a"/>
<rect x="1141" y="315" width="1" height="38" fill="#ef5350"/><rect x="1140" y="317" width="3" height="26" fill="#ef5350"/>
<rect x="1146" y="311" width="1" height="34" fill="#26a69a"/><rect x="1145" y="316" width="3" height="27" fill="#26a69a"/>
<rect x="1150" y="287" width="1" height="30" fill="#26a69a"/><rect x="1149" y="290" width="3" height="27" fill="#26a69a"/>
<rect x="1154" y="283" width="1" height="23" fill="#ef5350"/><rect x="1153" y="290" width="3" height="9" fill="#ef5350"/>
<rect x="1159" y="290" width="1" height="28" fill="#ef5350"/><rect x="1158" y="298" width="3" height="15" fill="#ef5350"/>
<rect x="1163" y="306" width="1" height="8" fill="#26a69a"/><rect x="1162" y="310" width="3" height="3" fill="#26a69a"/>
<rect x="1167" y="295" width="1" height="33" fill="#26a69a"/><rect x="1166" y="306" width="3" height="5" fill="#26a69a"/>
<rect x="1171" y="291" width="1" height="19" fill="#26a69a"/><rect x="1170" y="299" width="3" height="9" fill="#26a69a"/>
<rect x="1176" y="262" width="1" height="40" fill="#26a69a"/><rect x="1175" y="272" width="3" height="28" fill="#26a69a"/>
<rect x="1180" y="265" width="1" height="12" fill="#26a69a"/><rect x="1179" y="271" width="3" height="1" fill="#26a69a"/>
</g>
<line x1="10" y1="272.5" x2="1277" y2="272.5" stroke="#26a69a" stroke-width="1" stroke-dasharray="1 2" shape-rendering="crispEdges"/>
</g>
<g>
<rect x="1168" y="534" width="25" height="25" fill="#fff"/>
<path d="M1183.5,537.1 A9.8,9.8 0 1 0 1189.8,543.4" fill="none" stroke="#9c27b0" stroke-width="1.5" stroke-linecap="round"/>
<path d="M1182.9,541.2 L1176.2,546.9 L1180.0,546.9 L1177.2,551.9 L1184.7,546.1 L1180.9,546.1 Z" fill="#9c27b0"/>
<circle cx="1187.4" cy="539.5" r="2.6" fill="#f23645"/>
</g>
<text x="18.5" y="46" font-size="12" fill="#131722" text-anchor="start" font-weight="normal" textLength="50.8" lengthAdjust="spacingAndGlyphs" stroke="#131722" stroke-width="0.25">Ethereum</text>
<text x="75.2" y="46" font-size="12" fill="#131722" text-anchor="start" font-weight="normal" textLength="3.9" lengthAdjust="spacingAndGlyphs" stroke="#131722" stroke-width="0.25">/</text>
<text x="83.7" y="46" font-size="12" fill="#131722" text-anchor="start" font-weight="normal" textLength="47.1" lengthAdjust="spacingAndGlyphs" stroke="#131722" stroke-width="0.25">TetherUS</text>
<text x="144.7" y="46" font-size="12" fill="#131722" text-anchor="start" font-weight="normal" textLength="11.5" lengthAdjust="spacingAndGlyphs" stroke="#131722" stroke-width="0.25">1D</text>
<text x="169.1" y="46" font-size="12" fill="#131722" text-anchor="start" font-weight="normal" textLength="41.1" lengthAdjust="spacingAndGlyphs" stroke="#131722" stroke-width="0.25">Binance</text>
<rect x="136.6" y="41" width="1.8" height="1.8" fill="#131722"/><rect x="161.9" y="41" width="1.8" height="1.8" fill="#131722"/>
<text x="218.1" y="46" font-size="12" fill="#131722" text-anchor="start" font-weight="normal" stroke="#131722" stroke-width="0.25">O</text>
<text x="226.1" y="46" font-size="12" fill="#26a69a" text-anchor="start" font-weight="normal" textLength="46.5" lengthAdjust="spacingAndGlyphs" stroke="#26a69a" stroke-width="0.25">3,318.04</text>
<text x="280.4" y="46" font-size="12" fill="#131722" text-anchor="start" font-weight="normal" stroke="#131722" stroke-width="0.25">H</text>
<text x="287.8" y="46" font-size="12" fill="#26a69a" text-anchor="start" font-weight="normal" textLength="46.5" lengthAdjust="spacingAndGlyphs" stroke="#26a69a" stroke-width="0.25">3,376.00</text>
<text x="341.8" y="46" font-size="12" fill="#131722" text-anchor="start" font-weight="normal" stroke="#131722" stroke-width="0.25">L</text>
<text x="347.7" y="46" font-size="12" fill="#26a69a" text-anchor="start" font-weight="normal" textLength="46.5" lengthAdjust="spacingAndGlyphs" stroke="#26a69a" stroke-width="0.25">3,288.10</text>
<text x="401.4" y="46" font-size="12" fill="#131722" text-anchor="start" font-weight="normal" stroke="#131722" stroke-width="0.25">C</text>
<text x="408.9" y="46" font-size="12" fill="#26a69a" text-anchor="start" font-weight="normal" textLength="46" lengthAdjust="spacingAndGlyphs" stroke="#26a69a" stroke-width="0.25">3,325.42</text>
<text x="462.9" y="46" font-size="12" fill="#26a69a" text-anchor="start" font-weight="normal" textLength="28.5" lengthAdjust="spacingAndGlyphs" stroke="#26a69a" stroke-width="0.25">+7.38</text>
<text x="496.5" y="46" font-size="12" fill="#26a69a" text-anchor="start" font-weight="normal" textLength="44.3" lengthAdjust="spacingAndGlyphs" stroke="#26a69a" stroke-width="0.25">(+0.22%)</text>
<text x="18.2" y="63" font-size="12" fill="#131722" text-anchor="start" font-weight="normal" textLength="21.7" lengthAdjust="spacingAndGlyphs" stroke="#131722" stroke-width="0.25">EMA</text>
<text x="44.8" y="63" font-size="12" fill="#131722" text-anchor="start" font-weight="normal" textLength="19.2" lengthAdjust="spacingAndGlyphs" stroke="#131722" stroke-width="0.25">(20,</text>
<text x="68.7" y="63" font-size="12" fill="#131722" text-anchor="start" font-weight="normal" textLength="31.1" lengthAdjust="spacingAndGlyphs" stroke="#131722" stroke-width="0.25">close)</text>
<text x="107.1" y="63" font-size="12" fill="#2962ff" text-anchor="start" font-weight="normal" textLength="46.8" lengthAdjust="spacingAndGlyphs" stroke="#2962ff" stroke-width="0.25">3,116.08</text>
<text x="18.2" y="79.5" font-size="12" fill="#131722" text-anchor="start" font-weight="normal" textLength="20.8" lengthAdjust="spacingAndGlyphs" stroke="#131722" stroke-width="0.25">SMA</text>
<text x="43.9" y="79.5" font-size="12" fill="#131722" text-anchor="start" font-weight="normal" textLength="19.5" lengthAdjust="spacingAndGlyphs" stroke="#131722" stroke-width="0.25">(50,</text>
<text x="68.1" y="79.5" font-size="12" fill="#131722" text-anchor="start" font-weight="normal" textLength="31.1" lengthAdjust="spacingAndGlyphs" stroke="#131722" stroke-width="0.25">close)</text>
<text x="107.1" y="79.5" font-size="12" fill="#f23645" text-anchor="start" font-weight="normal" textLength="46.6" lengthAdjust="spacingAndGlyphs" stroke="#f23645" stroke-width="0.25">3,330.55</text>
<text x="18" y="579" font-size="12" fill="#131722" text-anchor="start" font-weight="normal" textLength="15.7" lengthAdjust="spacingAndGlyphs" stroke="#131722" stroke-width="0.25">RSI</text>
<text x="38.7" y="579" font-size="12" fill="#131722" text-anchor="start" font-weight="normal" textLength="19.2" lengthAdjust="spacingAndGlyphs" stroke="#131722" stroke-width="0.25">(14,</text>
<text x="62.8" y="579" font-size="12" fill="#131722" text-anchor="start" font-weight="normal" textLength="31.1" lengthAdjust="spacingAndGlyphs" stroke="#131722" stroke-width="0.25">close)</text>
<text x="102.3" y="579" font-size="12" fill="#7e57c2" text-anchor="start" font-weight="normal" textLength="28.5" lengthAdjust="spacingAndGlyphs" stroke="#7e57c2" stroke-width="0.25">58.09</text>
<text x="138.2" y="579" font-size="12" fill="#fdd835" text-anchor="start" font-weight="normal" textLength="30" lengthAdjust="spacingAndGlyphs" stroke="#fdd835" stroke-width="0.25">46.15</text>
<g shape-rendering="crispEdges">
<rect x="1277" y="28" width="1" height="737" fill="#e2e4ea"/>
<rect x="11" y="559" width="1331" height="1" fill="#e2e4ea"/>
<rect x="11" y="738" width="1331" height="1" fill="#e2e4ea"/>
</g>
<text x="1286" y="84.9" font-size="12" fill="#131722" text-anchor="start" font-weight="normal" textLength="46.6" lengthAdjust="spacingAndGlyphs" stroke="#131722" stroke-width="0.25">4,750.00</text>
<text x="1286" y="118.3" font-size="12" fill="#131722" text-anchor="start" font-weight="normal" textLength="46.6" lengthAdjust="spacingAndGlyphs" stroke="#131722" stroke-width="0.25">4,500.00</text>
<text x="1286" y="151.8" font-size="12" fill="#131722" text-anchor="start" font-weight="normal" textLength="46.6" lengthAdjust="spacingAndGlyphs" stroke="#131722" stroke-width="0.25">4,250.00</text>
<text x="1286" y="185.2" font-size="12" fill="#131722" text-anchor="start" font-weight="normal" textLength="46.6" lengthAdjust="spacingAndGlyphs" stroke="#131722" stroke-width="0.25">4,000.00</text>
<text x="1286" y="218.6" font-size="12" fill="#131722" text-anchor="start" font-weight="normal" textLength="46.6" lengthAdjust="spacingAndGlyphs" stroke="#131722" stroke-width="0.25">3,750.00</text>
<text x="1286" y="352.3" font-size="12" fill="#131722" text-anchor="start" font-weight="normal" textLength="46.6" lengthAdjust="spacingAndGlyphs" stroke="#131722" stroke-width="0.25">2,750.00</text>
<text x="1286" y="385.8" font-size="12" fill="#131722" text-anchor="start" font-weight="normal" textLength="46.6" lengthAdjust="spacingAndGlyphs" stroke="#131722" stroke-width="0.25">2,500.00</text>
<text x="1286" y="419.2" font-size="12" fill="#131722" text-anchor="start" font-weight="normal" textLength="46.6" lengthAdjust="spacingAndGlyphs" stroke="#131722" stroke-width="0.25">2,250.00</text>
<text x="1286" y="452.6" font-size="12" fill="#131722" text-anchor="start" font-weight="normal" textLength="46.6" lengthAdjust="spacingAndGlyphs" stroke="#131722" stroke-width="0.25">2,000.00</text>
<text x="1286" y="486.1" font-size="12" fill="#131722" text-anchor="start" font-weight="normal" textLength="46.6" lengthAdjust="spacingAndGlyphs" stroke="#131722" stroke-width="0.25">1,750.00</text>
<text x="1286" y="519.5" font-size="12" fill="#131722" text-anchor="start" font-weight="normal" textLength="46.6" lengthAdjust="spacingAndGlyphs" stroke="#131722" stroke-width="0.25">1,500.00</text>
<text x="1286" y="552.9" font-size="12" fill="#131722" text-anchor="start" font-weight="normal" textLength="46.6" lengthAdjust="spacingAndGlyphs" stroke="#131722" stroke-width="0.25">1,250.00</text>
<text x="1286" y="591.8" font-size="12" fill="#131722" text-anchor="start" font-weight="normal" textLength="29.6" lengthAdjust="spacingAndGlyphs" stroke="#131722" stroke-width="0.25">80.00</text>
<text x="1286" y="642.8" font-size="12" fill="#131722" text-anchor="start" font-weight="normal" textLength="29.6" lengthAdjust="spacingAndGlyphs" stroke="#131722" stroke-width="0.25">60.00</text>
<text x="1286" y="693.9" font-size="12" fill="#131722" text-anchor="start" font-weight="normal" textLength="29.6" lengthAdjust="spacingAndGlyphs" stroke="#131722" stroke-width="0.25">40.00</text>
<rect x="1281.5" y="31.5" width="57" height="26" rx="4" fill="#fff" stroke="#f0f1f3" stroke-width="1"/>
<text x="1290.4" y="49" font-size="12" fill="#131722" text-anchor="start" font-weight="normal" textLength="27.6" lengthAdjust="spacingAndGlyphs" stroke="#131722" stroke-width="0.25">USDT</text>
<g clip-path="url(#ct)">
<text x="78.2" y="756" font-size="12" fill="#131722" text-anchor="start" font-weight="normal" textLength="17.7" lengthAdjust="spacingAndGlyphs" stroke="#131722" stroke-width="0.25">Apr</text>
<text x="206.8" y="756" font-size="12" fill="#131722" text-anchor="start" font-weight="normal" textLength="20.4" lengthAdjust="spacingAndGlyphs" stroke="#131722" stroke-width="0.25">May</text>
<text x="341.9" y="756" font-size="12" fill="#131722" text-anchor="start" font-weight="normal" textLength="18.1" lengthAdjust="spacingAndGlyphs" stroke="#131722" stroke-width="0.25">Jun</text>
<text x="472.2" y="756" font-size="12" fill="#131722" text-anchor="start" font-weight="normal" textLength="15.6" lengthAdjust="spacingAndGlyphs" stroke="#131722" stroke-width="0.25">Jul</text>
<text x="604.5" y="756" font-size="12" fill="#131722" text-anchor="start" font-weight="normal" textLength="19" lengthAdjust="spacingAndGlyphs" stroke="#131722" stroke-width="0.25">Aug</text>
<text x="738.1" y="756" font-size="12" fill="#131722" text-anchor="start" font-weight="normal" textLength="19.8" lengthAdjust="spacingAndGlyphs" stroke="#131722" stroke-width="0.25">Sep</text>
<text x="868.7" y="756" font-size="12" fill="#131722" text-anchor="start" font-weight="normal" textLength="18.6" lengthAdjust="spacingAndGlyphs" stroke="#131722" stroke-width="0.25">Oct</text>
<text x="1002.0" y="756" font-size="12" fill="#131722" text-anchor="start" font-weight="normal" textLength="19.9" lengthAdjust="spacingAndGlyphs" stroke="#131722" stroke-width="0.25">Nov</text>
<text x="1131.2" y="756" font-size="12" fill="#131722" text-anchor="start" font-weight="normal" textLength="19.6" lengthAdjust="spacingAndGlyphs" stroke="#131722" stroke-width="0.25">Dec</text>
<text x="1261.5" y="756" font-size="12" fill="#131722" text-anchor="start" font-weight="bold" textLength="27" lengthAdjust="spacingAndGlyphs" stroke="#131722" stroke-width="0.25">2026</text>
</g>
<path d="M1278,230H1336a2,2 0 0 1 2,2V245a2,2 0 0 1 -2,2H1278Z" fill="#0000ff"/>
<text x="1286" y="242" font-size="12" fill="#fff" text-anchor="start" font-weight="normal" textLength="46.6" lengthAdjust="spacingAndGlyphs" stroke="#fff" stroke-width="0.3">3,350.00</text>
<path d="M1229,247H1277V264H1229a2,2 0 0 1 -2,-2V249a2,2 0 0 1 2,-2Z" fill="#f23645"/>
<path d="M1278,247H1336a2,2 0 0 1 2,2V262a2,2 0 0 1 -2,2H1278Z" fill="#f23645"/>
<text x="1232" y="259" font-size="12" fill="#fff" text-anchor="start" font-weight="normal" textLength="42" lengthAdjust="spacingAndGlyphs" stroke="#fff" stroke-width="0.3">SMA:MA</text>
<text x="1286" y="259" font-size="12" fill="#fff" text-anchor="start" font-weight="normal" textLength="46.6" lengthAdjust="spacingAndGlyphs" stroke="#fff" stroke-width="0.3">3,330.55</text>
<path d="M1221,264H1277V281H1221a2,2 0 0 1 -2,-2V266a2,2 0 0 1 2,-2Z" fill="#26a69a"/>
<path d="M1278,264H1336a2,2 0 0 1 2,2V307a2,2 0 0 1 -2,2H1278Z" fill="#26a69a"/>
<text x="1224" y="276" font-size="12" fill="#fff" text-anchor="start" font-weight="normal" textLength="48" lengthAdjust="spacingAndGlyphs" stroke="#fff" stroke-width="0.3">ETHUSDT</text>
<text x="1286" y="275.5" font-size="12" fill="#fff" text-anchor="start" font-weight="normal" textLength="46.6" lengthAdjust="spacingAndGlyphs" stroke="#fff" stroke-width="0.3">3,325.42</text>
<text x="1286" y="289.5" font-size="12" fill="#fff" text-anchor="start" font-weight="normal" textLength="43" lengthAdjust="spacingAndGlyphs" stroke="#fff" stroke-width="0.3">+78.35%</text>
<text x="1286" y="303.5" font-size="12" fill="#fff" text-anchor="start" font-weight="normal" textLength="46.6" lengthAdjust="spacingAndGlyphs" fill-opacity="0.72" stroke="#fff" stroke-width="0.25">08:28:13</text>
<path d="M1248,309H1277V326H1248a2,2 0 0 1 -2,-2V311a2,2 0 0 1 2,-2Z" fill="#2962ff"/>
<path d="M1278,309H1336a2,2 0 0 1 2,2V324a2,2 0 0 1 -2,2H1278Z" fill="#2962ff"/>
<text x="1251" y="321" font-size="12" fill="#fff" text-anchor="start" font-weight="normal" textLength="22" lengthAdjust="spacingAndGlyphs" stroke="#fff" stroke-width="0.3">EMA</text>
<text x="1286" y="321" font-size="12" fill="#fff" text-anchor="start" font-weight="normal" textLength="46.6" lengthAdjust="spacingAndGlyphs" stroke="#fff" stroke-width="0.3">3,116.08</text>
<path d="M1254,635H1277V652H1254a2,2 0 0 1 -2,-2V637a2,2 0 0 1 2,-2Z" fill="#7e57c2"/>
<path d="M1278,635H1319a2,2 0 0 1 2,2V650a2,2 0 0 1 -2,2H1278Z" fill="#7e57c2"/>
<text x="1256.5" y="647.5" font-size="12" fill="#fff" text-anchor="start" font-weight="normal" textLength="16" lengthAdjust="spacingAndGlyphs" stroke="#fff" stroke-width="0.3">RSI</text>
<text x="1286" y="647.5" font-size="12" fill="#fff" text-anchor="start" font-weight="normal" textLength="29.6" lengthAdjust="spacingAndGlyphs" stroke="#fff" stroke-width="0.3">58.09</text>
<path d="M1200,666H1277V683H1200a2,2 0 0 1 -2,-2V668a2,2 0 0 1 2,-2Z" fill="#fdd835"/>
<path d="M1278,666H1319a2,2 0 0 1 2,2V681a2,2 0 0 1 -2,2H1278Z" fill="#fdd835"/>
<text x="1202.5" y="678.5" font-size="12" fill="#131722" text-anchor="start" font-weight="normal" textLength="70" lengthAdjust="spacingAndGlyphs" stroke="#131722" stroke-width="0.25">RSI-based MA</text>
<text x="1286" y="678.5" font-size="12" fill="#131722" text-anchor="start" font-weight="normal" textLength="29.6" lengthAdjust="spacingAndGlyphs" stroke="#131722" stroke-width="0.25">46.15</text>
<g fill="#131722">
<path d="M12.2,788.3H23.9V803.2H17.7V795.4H12.2Z"/>
<circle cx="28.8" cy="791.3" r="3"/>
<path d="M33.9,788.3H41.7L35.4,803.2H27.6Z"/>
</g>
<text x="49.2" y="803.2" font-size="21" fill="#131722" text-anchor="start" font-weight="bold" textLength="120.4" lengthAdjust="spacingAndGlyphs" stroke="#131722" stroke-width="0.5">TradingView</text>
</svg>
</body></html>
